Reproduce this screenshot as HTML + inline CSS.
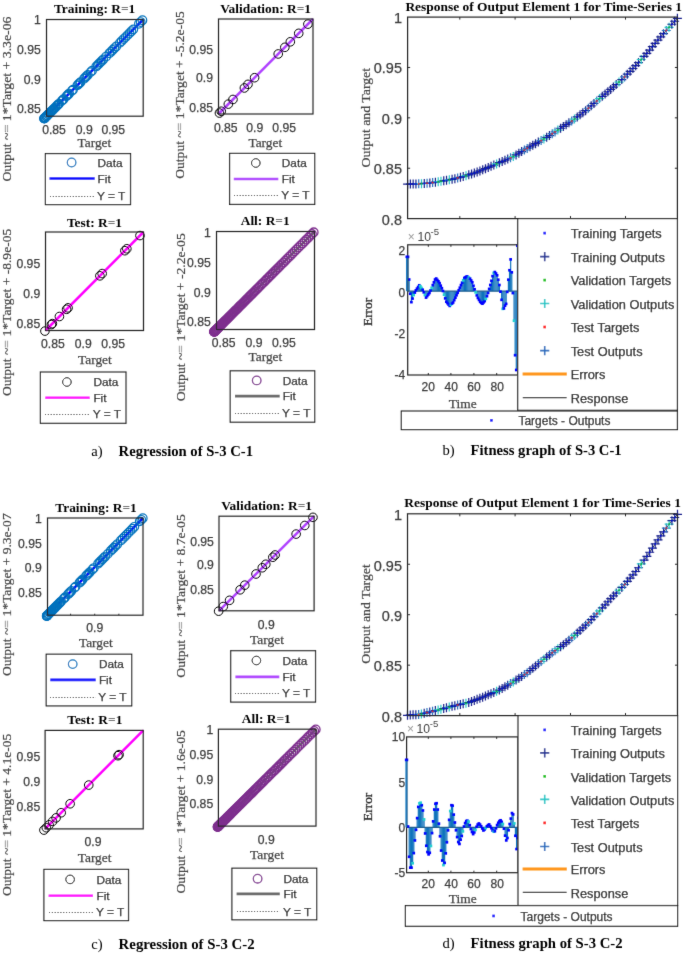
<!DOCTYPE html>
<html><head><meta charset="utf-8"><style>
html,body{margin:0;padding:0;background:#fff;}
svg{display:block;}
</style></head><body>
<svg width="685" height="953" viewBox="0 0 685 953">
<defs><filter id="bl" x="0" y="0" width="685" height="953" filterUnits="userSpaceOnUse"><feConvolveMatrix order="3" kernelMatrix="1 10 1 10 100 10 1 10 1" divisor="144" edgeMode="duplicate"/></filter></defs>
<rect width="685" height="953" fill="#fff"/>
<g filter="url(#bl)">
<line x1="46.50" y1="116.20" x2="143.20" y2="19.50" stroke="#000" stroke-width="0.8" stroke-dasharray="1 2"/>
<line x1="46.50" y1="116.20" x2="143.20" y2="19.50" stroke="#0000ff" stroke-width="2.5" />
<circle cx="44.19" cy="118.51" r="4.3" fill="none" stroke="#0072bd" stroke-width="1.2"/>
<circle cx="44.24" cy="118.46" r="4.3" fill="none" stroke="#0072bd" stroke-width="1.2"/>
<circle cx="44.29" cy="118.41" r="4.3" fill="none" stroke="#0072bd" stroke-width="1.2"/>
<circle cx="44.34" cy="118.36" r="4.3" fill="none" stroke="#0072bd" stroke-width="1.2"/>
<circle cx="44.64" cy="118.06" r="4.3" fill="none" stroke="#0072bd" stroke-width="1.2"/>
<circle cx="44.90" cy="117.80" r="4.3" fill="none" stroke="#0072bd" stroke-width="1.2"/>
<circle cx="45.41" cy="117.29" r="4.3" fill="none" stroke="#0072bd" stroke-width="1.2"/>
<circle cx="46.21" cy="116.49" r="4.3" fill="none" stroke="#0072bd" stroke-width="1.2"/>
<circle cx="46.50" cy="116.20" r="4.3" fill="none" stroke="#0072bd" stroke-width="1.2"/>
<circle cx="47.10" cy="115.60" r="4.3" fill="none" stroke="#0072bd" stroke-width="1.2"/>
<circle cx="47.49" cy="115.21" r="4.3" fill="none" stroke="#0072bd" stroke-width="1.2"/>
<circle cx="48.31" cy="114.39" r="4.3" fill="none" stroke="#0072bd" stroke-width="1.2"/>
<circle cx="48.72" cy="113.98" r="4.3" fill="none" stroke="#0072bd" stroke-width="1.2"/>
<circle cx="49.74" cy="112.96" r="4.3" fill="none" stroke="#0072bd" stroke-width="1.2"/>
<circle cx="50.27" cy="112.43" r="4.3" fill="none" stroke="#0072bd" stroke-width="1.2"/>
<circle cx="50.80" cy="111.90" r="4.3" fill="none" stroke="#0072bd" stroke-width="1.2"/>
<circle cx="51.39" cy="111.31" r="4.3" fill="none" stroke="#0072bd" stroke-width="1.2"/>
<circle cx="52.06" cy="110.64" r="4.3" fill="none" stroke="#0072bd" stroke-width="1.2"/>
<circle cx="52.73" cy="109.97" r="4.3" fill="none" stroke="#0072bd" stroke-width="1.2"/>
<circle cx="53.41" cy="109.29" r="4.3" fill="none" stroke="#0072bd" stroke-width="1.2"/>
<circle cx="54.11" cy="108.59" r="4.3" fill="none" stroke="#0072bd" stroke-width="1.2"/>
<circle cx="54.81" cy="107.89" r="4.3" fill="none" stroke="#0072bd" stroke-width="1.2"/>
<circle cx="55.51" cy="107.19" r="4.3" fill="none" stroke="#0072bd" stroke-width="1.2"/>
<circle cx="56.91" cy="105.79" r="4.3" fill="none" stroke="#0072bd" stroke-width="1.2"/>
<circle cx="57.64" cy="105.06" r="4.3" fill="none" stroke="#0072bd" stroke-width="1.2"/>
<circle cx="58.38" cy="104.32" r="4.3" fill="none" stroke="#0072bd" stroke-width="1.2"/>
<circle cx="59.11" cy="103.59" r="4.3" fill="none" stroke="#0072bd" stroke-width="1.2"/>
<circle cx="61.54" cy="101.16" r="4.3" fill="none" stroke="#0072bd" stroke-width="1.2"/>
<circle cx="62.55" cy="100.15" r="4.3" fill="none" stroke="#0072bd" stroke-width="1.2"/>
<circle cx="63.52" cy="99.18" r="4.3" fill="none" stroke="#0072bd" stroke-width="1.2"/>
<circle cx="66.34" cy="96.36" r="4.3" fill="none" stroke="#0072bd" stroke-width="1.2"/>
<circle cx="67.29" cy="95.41" r="4.3" fill="none" stroke="#0072bd" stroke-width="1.2"/>
<circle cx="68.21" cy="94.49" r="4.3" fill="none" stroke="#0072bd" stroke-width="1.2"/>
<circle cx="69.14" cy="93.56" r="4.3" fill="none" stroke="#0072bd" stroke-width="1.2"/>
<circle cx="71.93" cy="90.77" r="4.3" fill="none" stroke="#0072bd" stroke-width="1.2"/>
<circle cx="73.01" cy="89.69" r="4.3" fill="none" stroke="#0072bd" stroke-width="1.2"/>
<circle cx="77.33" cy="85.37" r="4.3" fill="none" stroke="#0072bd" stroke-width="1.2"/>
<circle cx="78.39" cy="84.31" r="4.3" fill="none" stroke="#0072bd" stroke-width="1.2"/>
<circle cx="79.45" cy="83.25" r="4.3" fill="none" stroke="#0072bd" stroke-width="1.2"/>
<circle cx="80.51" cy="82.19" r="4.3" fill="none" stroke="#0072bd" stroke-width="1.2"/>
<circle cx="84.00" cy="78.70" r="4.3" fill="none" stroke="#0072bd" stroke-width="1.2"/>
<circle cx="85.24" cy="77.46" r="4.3" fill="none" stroke="#0072bd" stroke-width="1.2"/>
<circle cx="86.49" cy="76.21" r="4.3" fill="none" stroke="#0072bd" stroke-width="1.2"/>
<circle cx="87.73" cy="74.97" r="4.3" fill="none" stroke="#0072bd" stroke-width="1.2"/>
<circle cx="90.59" cy="72.11" r="4.3" fill="none" stroke="#0072bd" stroke-width="1.2"/>
<circle cx="92.03" cy="70.67" r="4.3" fill="none" stroke="#0072bd" stroke-width="1.2"/>
<circle cx="96.23" cy="66.47" r="4.3" fill="none" stroke="#0072bd" stroke-width="1.2"/>
<circle cx="97.58" cy="65.12" r="4.3" fill="none" stroke="#0072bd" stroke-width="1.2"/>
<circle cx="98.93" cy="63.77" r="4.3" fill="none" stroke="#0072bd" stroke-width="1.2"/>
<circle cx="100.29" cy="62.41" r="4.3" fill="none" stroke="#0072bd" stroke-width="1.2"/>
<circle cx="101.72" cy="60.98" r="4.3" fill="none" stroke="#0072bd" stroke-width="1.2"/>
<circle cx="103.20" cy="59.50" r="4.3" fill="none" stroke="#0072bd" stroke-width="1.2"/>
<circle cx="106.15" cy="56.55" r="4.3" fill="none" stroke="#0072bd" stroke-width="1.2"/>
<circle cx="109.37" cy="53.33" r="4.3" fill="none" stroke="#0072bd" stroke-width="1.2"/>
<circle cx="111.03" cy="51.67" r="4.3" fill="none" stroke="#0072bd" stroke-width="1.2"/>
<circle cx="112.69" cy="50.01" r="4.3" fill="none" stroke="#0072bd" stroke-width="1.2"/>
<circle cx="114.39" cy="48.31" r="4.3" fill="none" stroke="#0072bd" stroke-width="1.2"/>
<circle cx="116.21" cy="46.49" r="4.3" fill="none" stroke="#0072bd" stroke-width="1.2"/>
<circle cx="119.84" cy="42.86" r="4.3" fill="none" stroke="#0072bd" stroke-width="1.2"/>
<circle cx="121.66" cy="41.04" r="4.3" fill="none" stroke="#0072bd" stroke-width="1.2"/>
<circle cx="123.63" cy="39.07" r="4.3" fill="none" stroke="#0072bd" stroke-width="1.2"/>
<circle cx="125.60" cy="37.10" r="4.3" fill="none" stroke="#0072bd" stroke-width="1.2"/>
<circle cx="127.57" cy="35.13" r="4.3" fill="none" stroke="#0072bd" stroke-width="1.2"/>
<circle cx="129.54" cy="33.16" r="4.3" fill="none" stroke="#0072bd" stroke-width="1.2"/>
<circle cx="131.44" cy="31.26" r="4.3" fill="none" stroke="#0072bd" stroke-width="1.2"/>
<circle cx="133.33" cy="29.37" r="4.3" fill="none" stroke="#0072bd" stroke-width="1.2"/>
<circle cx="138.91" cy="23.79" r="4.3" fill="none" stroke="#0072bd" stroke-width="1.2"/>
<circle cx="140.67" cy="22.03" r="4.3" fill="none" stroke="#0072bd" stroke-width="1.2"/>
<circle cx="142.43" cy="20.27" r="4.3" fill="none" stroke="#0072bd" stroke-width="1.2"/>
<rect x="46.50" y="19.50" width="96.70" height="96.70" fill="none" stroke="#262626" stroke-width="1.2"/>
<text x="40.80" y="23.70" font-family="Liberation Sans, sans-serif" font-size="12.2" font-weight="normal" text-anchor="end" fill="#3c3c3c" stroke="#3c3c3c" stroke-width="0.25">1</text>
<text x="40.80" y="53.90" font-family="Liberation Sans, sans-serif" font-size="12.2" font-weight="normal" text-anchor="end" fill="#3c3c3c" stroke="#3c3c3c" stroke-width="0.25">0.95</text>
<text x="40.80" y="84.10" font-family="Liberation Sans, sans-serif" font-size="12.2" font-weight="normal" text-anchor="end" fill="#3c3c3c" stroke="#3c3c3c" stroke-width="0.25">0.9</text>
<text x="40.80" y="113.40" font-family="Liberation Sans, sans-serif" font-size="12.2" font-weight="normal" text-anchor="end" fill="#3c3c3c" stroke="#3c3c3c" stroke-width="0.25">0.85</text>
<text x="54.00" y="134.10" font-family="Liberation Sans, sans-serif" font-size="12.2" font-weight="normal" text-anchor="middle" fill="#3c3c3c" stroke="#3c3c3c" stroke-width="0.25">0.85</text>
<text x="84.20" y="134.10" font-family="Liberation Sans, sans-serif" font-size="12.2" font-weight="normal" text-anchor="middle" fill="#3c3c3c" stroke="#3c3c3c" stroke-width="0.25">0.9</text>
<text x="113.30" y="134.10" font-family="Liberation Sans, sans-serif" font-size="12.2" font-weight="normal" text-anchor="middle" fill="#3c3c3c" stroke="#3c3c3c" stroke-width="0.25">0.95</text>
<text x="94.60" y="13.20" font-family="Liberation Serif, serif" font-size="13.4" font-weight="bold" text-anchor="middle" fill="#000" >Training: R<tspan fill="#777">=</tspan>1</text>
<text x="94.40" y="146.60" font-family="Liberation Serif, serif" font-size="13.4" font-weight="normal" text-anchor="middle" fill="#444" stroke="#444" stroke-width="0.25">Target</text>
<text transform="translate(11.40,99.10) rotate(-90)" font-family="Liberation Serif, serif" font-size="13.4" text-anchor="middle" fill="#444" stroke="#444" stroke-width="0.2" textLength="165.0" lengthAdjust="spacingAndGlyphs">Output ~<tspan fill="#d4d4d4" font-weight="bold">=</tspan> 1*Target + 3.3e-06</text>
<rect x="45.40" y="153.60" width="85.10" height="51.00" fill="#fff" stroke="#262626" stroke-width="1.2"/>
<circle cx="71.60" cy="162.50" r="4.3" fill="none" stroke="#0072bd" stroke-width="1.2"/>
<line x1="49.50" y1="178.50" x2="94.70" y2="178.50" stroke="#0000ff" stroke-width="2.6" />
<line x1="50.00" y1="196.50" x2="94.70" y2="196.50" stroke="#000" stroke-width="1.0" stroke-dasharray="1 1.85"/>
<text x="97.60" y="166.70" font-family="Liberation Sans, sans-serif" font-size="11.8" font-weight="normal" text-anchor="start" fill="#1c1c1c" stroke="#161616" stroke-width="0.25">Data</text>
<text x="97.60" y="182.70" font-family="Liberation Sans, sans-serif" font-size="11.8" font-weight="normal" text-anchor="start" fill="#1c1c1c" stroke="#161616" stroke-width="0.25">Fit</text>
<text x="97.00" y="199.70" font-family="Liberation Sans, sans-serif" font-size="11.8" font-weight="normal" text-anchor="start" fill="#1c1c1c" stroke="#161616" stroke-width="0.25" textLength="28.3" lengthAdjust="spacingAndGlyphs">Y = T</text>
<line x1="218.50" y1="114.00" x2="313.00" y2="19.00" stroke="#000" stroke-width="0.8" stroke-dasharray="1 2"/>
<line x1="218.50" y1="114.00" x2="313.00" y2="19.00" stroke="#b042ff" stroke-width="2.5" />
<circle cx="307.90" cy="24.13" r="4.3" fill="none" stroke="#000" stroke-width="1.0"/>
<circle cx="298.73" cy="33.34" r="4.3" fill="none" stroke="#000" stroke-width="1.0"/>
<circle cx="290.32" cy="41.80" r="4.3" fill="none" stroke="#000" stroke-width="1.0"/>
<circle cx="284.84" cy="47.31" r="4.3" fill="none" stroke="#000" stroke-width="1.0"/>
<circle cx="278.22" cy="53.96" r="4.3" fill="none" stroke="#000" stroke-width="1.0"/>
<circle cx="254.60" cy="77.71" r="4.3" fill="none" stroke="#000" stroke-width="1.0"/>
<circle cx="247.98" cy="84.36" r="4.3" fill="none" stroke="#000" stroke-width="1.0"/>
<circle cx="244.39" cy="87.97" r="4.3" fill="none" stroke="#000" stroke-width="1.0"/>
<circle cx="232.96" cy="99.47" r="4.3" fill="none" stroke="#000" stroke-width="1.0"/>
<circle cx="228.33" cy="104.12" r="4.3" fill="none" stroke="#000" stroke-width="1.0"/>
<circle cx="221.24" cy="111.25" r="4.3" fill="none" stroke="#000" stroke-width="1.0"/>
<circle cx="219.44" cy="113.05" r="4.3" fill="none" stroke="#000" stroke-width="1.0"/>
<rect x="218.50" y="19.00" width="94.50" height="95.00" fill="none" stroke="#262626" stroke-width="1.2"/>
<text x="213.00" y="53.90" font-family="Liberation Sans, sans-serif" font-size="12.2" font-weight="normal" text-anchor="end" fill="#3c3c3c" stroke="#3c3c3c" stroke-width="0.25">0.95</text>
<text x="213.00" y="82.20" font-family="Liberation Sans, sans-serif" font-size="12.2" font-weight="normal" text-anchor="end" fill="#3c3c3c" stroke="#3c3c3c" stroke-width="0.25">0.9</text>
<text x="213.00" y="111.50" font-family="Liberation Sans, sans-serif" font-size="12.2" font-weight="normal" text-anchor="end" fill="#3c3c3c" stroke="#3c3c3c" stroke-width="0.25">0.85</text>
<text x="225.80" y="131.50" font-family="Liberation Sans, sans-serif" font-size="12.2" font-weight="normal" text-anchor="middle" fill="#3c3c3c" stroke="#3c3c3c" stroke-width="0.25">0.85</text>
<text x="254.80" y="131.50" font-family="Liberation Sans, sans-serif" font-size="12.2" font-weight="normal" text-anchor="middle" fill="#3c3c3c" stroke="#3c3c3c" stroke-width="0.25">0.9</text>
<text x="284.10" y="131.50" font-family="Liberation Sans, sans-serif" font-size="12.2" font-weight="normal" text-anchor="middle" fill="#3c3c3c" stroke="#3c3c3c" stroke-width="0.25">0.95</text>
<text x="265.60" y="12.80" font-family="Liberation Serif, serif" font-size="13.4" font-weight="bold" text-anchor="middle" fill="#000" >Validation: R<tspan fill="#777">=</tspan>1</text>
<text x="265.30" y="146.60" font-family="Liberation Serif, serif" font-size="13.4" font-weight="normal" text-anchor="middle" fill="#444" stroke="#444" stroke-width="0.25">Target</text>
<text transform="translate(184.00,95.00) rotate(-90)" font-family="Liberation Serif, serif" font-size="13.4" text-anchor="middle" fill="#444" stroke="#444" stroke-width="0.2" textLength="167.5" lengthAdjust="spacingAndGlyphs">Output ~<tspan fill="#d4d4d4" font-weight="bold">=</tspan> 1*Target + -5.2e-05</text>
<rect x="229.60" y="153.40" width="85.10" height="51.00" fill="#fff" stroke="#262626" stroke-width="1.2"/>
<circle cx="255.80" cy="163.00" r="4.3" fill="none" stroke="#000" stroke-width="1.0"/>
<line x1="233.80" y1="179.00" x2="278.30" y2="179.00" stroke="#b042ff" stroke-width="2.6" />
<line x1="234.00" y1="195.50" x2="278.30" y2="195.50" stroke="#000" stroke-width="1.0" stroke-dasharray="1 1.85"/>
<text x="281.80" y="167.20" font-family="Liberation Sans, sans-serif" font-size="11.8" font-weight="normal" text-anchor="start" fill="#1c1c1c" stroke="#161616" stroke-width="0.25">Data</text>
<text x="281.80" y="183.20" font-family="Liberation Sans, sans-serif" font-size="11.8" font-weight="normal" text-anchor="start" fill="#1c1c1c" stroke="#161616" stroke-width="0.25">Fit</text>
<text x="281.20" y="199.30" font-family="Liberation Sans, sans-serif" font-size="11.8" font-weight="normal" text-anchor="start" fill="#1c1c1c" stroke="#161616" stroke-width="0.25" textLength="28.3" lengthAdjust="spacingAndGlyphs">Y = T</text>
<line x1="45.50" y1="330.50" x2="143.50" y2="232.00" stroke="#000" stroke-width="0.8" stroke-dasharray="1 2"/>
<line x1="45.50" y1="330.50" x2="143.50" y2="232.00" stroke="#ff00ff" stroke-width="2.5" />
<circle cx="139.97" cy="235.55" r="4.3" fill="none" stroke="#000" stroke-width="1.0"/>
<circle cx="124.88" cy="250.71" r="4.3" fill="none" stroke="#000" stroke-width="1.0"/>
<circle cx="126.84" cy="248.75" r="4.3" fill="none" stroke="#000" stroke-width="1.0"/>
<circle cx="99.89" cy="275.83" r="4.3" fill="none" stroke="#000" stroke-width="1.0"/>
<circle cx="102.14" cy="273.57" r="4.3" fill="none" stroke="#000" stroke-width="1.0"/>
<circle cx="66.57" cy="309.32" r="4.3" fill="none" stroke="#000" stroke-width="1.0"/>
<circle cx="68.04" cy="307.85" r="4.3" fill="none" stroke="#000" stroke-width="1.0"/>
<circle cx="59.42" cy="316.51" r="4.3" fill="none" stroke="#000" stroke-width="1.0"/>
<circle cx="51.38" cy="324.59" r="4.3" fill="none" stroke="#000" stroke-width="1.0"/>
<circle cx="52.36" cy="323.61" r="4.3" fill="none" stroke="#000" stroke-width="1.0"/>
<circle cx="44.91" cy="331.09" r="4.3" fill="none" stroke="#000" stroke-width="1.0"/>
<rect x="45.50" y="232.00" width="98.00" height="98.50" fill="none" stroke="#262626" stroke-width="1.2"/>
<text x="40.20" y="267.80" font-family="Liberation Sans, sans-serif" font-size="12.2" font-weight="normal" text-anchor="end" fill="#3c3c3c" stroke="#3c3c3c" stroke-width="0.25">0.95</text>
<text x="40.20" y="298.00" font-family="Liberation Sans, sans-serif" font-size="12.2" font-weight="normal" text-anchor="end" fill="#3c3c3c" stroke="#3c3c3c" stroke-width="0.25">0.9</text>
<text x="40.20" y="328.20" font-family="Liberation Sans, sans-serif" font-size="12.2" font-weight="normal" text-anchor="end" fill="#3c3c3c" stroke="#3c3c3c" stroke-width="0.25">0.85</text>
<text x="52.90" y="347.80" font-family="Liberation Sans, sans-serif" font-size="12.2" font-weight="normal" text-anchor="middle" fill="#3c3c3c" stroke="#3c3c3c" stroke-width="0.25">0.85</text>
<text x="83.20" y="347.80" font-family="Liberation Sans, sans-serif" font-size="12.2" font-weight="normal" text-anchor="middle" fill="#3c3c3c" stroke="#3c3c3c" stroke-width="0.25">0.9</text>
<text x="113.10" y="347.80" font-family="Liberation Sans, sans-serif" font-size="12.2" font-weight="normal" text-anchor="middle" fill="#3c3c3c" stroke="#3c3c3c" stroke-width="0.25">0.95</text>
<text x="94.50" y="226.50" font-family="Liberation Serif, serif" font-size="13.4" font-weight="bold" text-anchor="middle" fill="#000" >Test: R<tspan fill="#777">=</tspan>1</text>
<text x="94.90" y="363.50" font-family="Liberation Serif, serif" font-size="13.4" font-weight="normal" text-anchor="middle" fill="#444" stroke="#444" stroke-width="0.25">Target</text>
<text transform="translate(11.40,312.40) rotate(-90)" font-family="Liberation Serif, serif" font-size="13.4" text-anchor="middle" fill="#444" stroke="#444" stroke-width="0.2" textLength="167.3" lengthAdjust="spacingAndGlyphs">Output ~<tspan fill="#d4d4d4" font-weight="bold">=</tspan> 1*Target + -8.9e-05</text>
<rect x="40.40" y="372.00" width="85.60" height="51.30" fill="#fff" stroke="#262626" stroke-width="1.2"/>
<circle cx="66.90" cy="382.00" r="4.3" fill="none" stroke="#000" stroke-width="1.0"/>
<line x1="45.30" y1="397.70" x2="89.70" y2="397.70" stroke="#ff00ff" stroke-width="2.6" />
<line x1="45.00" y1="414.50" x2="89.70" y2="414.50" stroke="#000" stroke-width="1.0" stroke-dasharray="1 1.85"/>
<text x="93.40" y="386.20" font-family="Liberation Sans, sans-serif" font-size="11.8" font-weight="normal" text-anchor="start" fill="#1c1c1c" stroke="#161616" stroke-width="0.25">Data</text>
<text x="93.40" y="401.90" font-family="Liberation Sans, sans-serif" font-size="11.8" font-weight="normal" text-anchor="start" fill="#1c1c1c" stroke="#161616" stroke-width="0.25">Fit</text>
<text x="92.80" y="418.30" font-family="Liberation Sans, sans-serif" font-size="11.8" font-weight="normal" text-anchor="start" fill="#1c1c1c" stroke="#161616" stroke-width="0.25" textLength="28.3" lengthAdjust="spacingAndGlyphs">Y = T</text>
<line x1="216.50" y1="329.50" x2="314.50" y2="231.50" stroke="#000" stroke-width="0.8" stroke-dasharray="1 2"/>
<line x1="216.50" y1="329.50" x2="314.50" y2="231.50" stroke="#666666" stroke-width="2.5" />
<circle cx="214.16" cy="331.84" r="4.3" fill="none" stroke="#7e2f8e" stroke-width="1.3"/>
<circle cx="214.21" cy="331.79" r="4.3" fill="none" stroke="#7e2f8e" stroke-width="1.3"/>
<circle cx="214.26" cy="331.74" r="4.3" fill="none" stroke="#7e2f8e" stroke-width="1.3"/>
<circle cx="214.31" cy="331.69" r="4.3" fill="none" stroke="#7e2f8e" stroke-width="1.3"/>
<circle cx="214.39" cy="331.61" r="4.3" fill="none" stroke="#7e2f8e" stroke-width="1.3"/>
<circle cx="214.50" cy="331.50" r="4.3" fill="none" stroke="#7e2f8e" stroke-width="1.3"/>
<circle cx="214.62" cy="331.38" r="4.3" fill="none" stroke="#7e2f8e" stroke-width="1.3"/>
<circle cx="214.73" cy="331.27" r="4.3" fill="none" stroke="#7e2f8e" stroke-width="1.3"/>
<circle cx="214.88" cy="331.12" r="4.3" fill="none" stroke="#7e2f8e" stroke-width="1.3"/>
<circle cx="215.13" cy="330.87" r="4.3" fill="none" stroke="#7e2f8e" stroke-width="1.3"/>
<circle cx="215.39" cy="330.61" r="4.3" fill="none" stroke="#7e2f8e" stroke-width="1.3"/>
<circle cx="215.65" cy="330.35" r="4.3" fill="none" stroke="#7e2f8e" stroke-width="1.3"/>
<circle cx="215.91" cy="330.09" r="4.3" fill="none" stroke="#7e2f8e" stroke-width="1.3"/>
<circle cx="216.21" cy="329.79" r="4.3" fill="none" stroke="#7e2f8e" stroke-width="1.3"/>
<circle cx="216.51" cy="329.49" r="4.3" fill="none" stroke="#7e2f8e" stroke-width="1.3"/>
<circle cx="216.80" cy="329.20" r="4.3" fill="none" stroke="#7e2f8e" stroke-width="1.3"/>
<circle cx="217.10" cy="328.90" r="4.3" fill="none" stroke="#7e2f8e" stroke-width="1.3"/>
<circle cx="217.50" cy="328.50" r="4.3" fill="none" stroke="#7e2f8e" stroke-width="1.3"/>
<circle cx="217.92" cy="328.08" r="4.3" fill="none" stroke="#7e2f8e" stroke-width="1.3"/>
<circle cx="218.34" cy="327.66" r="4.3" fill="none" stroke="#7e2f8e" stroke-width="1.3"/>
<circle cx="218.75" cy="327.25" r="4.3" fill="none" stroke="#7e2f8e" stroke-width="1.3"/>
<circle cx="219.25" cy="326.75" r="4.3" fill="none" stroke="#7e2f8e" stroke-width="1.3"/>
<circle cx="219.79" cy="326.21" r="4.3" fill="none" stroke="#7e2f8e" stroke-width="1.3"/>
<circle cx="220.32" cy="325.68" r="4.3" fill="none" stroke="#7e2f8e" stroke-width="1.3"/>
<circle cx="220.86" cy="325.14" r="4.3" fill="none" stroke="#7e2f8e" stroke-width="1.3"/>
<circle cx="221.46" cy="324.54" r="4.3" fill="none" stroke="#7e2f8e" stroke-width="1.3"/>
<circle cx="222.14" cy="323.86" r="4.3" fill="none" stroke="#7e2f8e" stroke-width="1.3"/>
<circle cx="222.81" cy="323.19" r="4.3" fill="none" stroke="#7e2f8e" stroke-width="1.3"/>
<circle cx="223.50" cy="322.50" r="4.3" fill="none" stroke="#7e2f8e" stroke-width="1.3"/>
<circle cx="224.21" cy="321.79" r="4.3" fill="none" stroke="#7e2f8e" stroke-width="1.3"/>
<circle cx="224.92" cy="321.08" r="4.3" fill="none" stroke="#7e2f8e" stroke-width="1.3"/>
<circle cx="225.63" cy="320.37" r="4.3" fill="none" stroke="#7e2f8e" stroke-width="1.3"/>
<circle cx="226.34" cy="319.66" r="4.3" fill="none" stroke="#7e2f8e" stroke-width="1.3"/>
<circle cx="227.05" cy="318.95" r="4.3" fill="none" stroke="#7e2f8e" stroke-width="1.3"/>
<circle cx="227.79" cy="318.21" r="4.3" fill="none" stroke="#7e2f8e" stroke-width="1.3"/>
<circle cx="228.54" cy="317.46" r="4.3" fill="none" stroke="#7e2f8e" stroke-width="1.3"/>
<circle cx="229.28" cy="316.72" r="4.3" fill="none" stroke="#7e2f8e" stroke-width="1.3"/>
<circle cx="230.02" cy="315.98" r="4.3" fill="none" stroke="#7e2f8e" stroke-width="1.3"/>
<circle cx="230.77" cy="315.23" r="4.3" fill="none" stroke="#7e2f8e" stroke-width="1.3"/>
<circle cx="231.74" cy="314.26" r="4.3" fill="none" stroke="#7e2f8e" stroke-width="1.3"/>
<circle cx="232.76" cy="313.24" r="4.3" fill="none" stroke="#7e2f8e" stroke-width="1.3"/>
<circle cx="233.74" cy="312.26" r="4.3" fill="none" stroke="#7e2f8e" stroke-width="1.3"/>
<circle cx="234.70" cy="311.30" r="4.3" fill="none" stroke="#7e2f8e" stroke-width="1.3"/>
<circle cx="235.66" cy="310.34" r="4.3" fill="none" stroke="#7e2f8e" stroke-width="1.3"/>
<circle cx="236.61" cy="309.39" r="4.3" fill="none" stroke="#7e2f8e" stroke-width="1.3"/>
<circle cx="237.57" cy="308.43" r="4.3" fill="none" stroke="#7e2f8e" stroke-width="1.3"/>
<circle cx="238.51" cy="307.49" r="4.3" fill="none" stroke="#7e2f8e" stroke-width="1.3"/>
<circle cx="239.44" cy="306.56" r="4.3" fill="none" stroke="#7e2f8e" stroke-width="1.3"/>
<circle cx="240.38" cy="305.62" r="4.3" fill="none" stroke="#7e2f8e" stroke-width="1.3"/>
<circle cx="241.31" cy="304.69" r="4.3" fill="none" stroke="#7e2f8e" stroke-width="1.3"/>
<circle cx="242.27" cy="303.73" r="4.3" fill="none" stroke="#7e2f8e" stroke-width="1.3"/>
<circle cx="243.37" cy="302.63" r="4.3" fill="none" stroke="#7e2f8e" stroke-width="1.3"/>
<circle cx="244.46" cy="301.54" r="4.3" fill="none" stroke="#7e2f8e" stroke-width="1.3"/>
<circle cx="245.56" cy="300.44" r="4.3" fill="none" stroke="#7e2f8e" stroke-width="1.3"/>
<circle cx="246.65" cy="299.35" r="4.3" fill="none" stroke="#7e2f8e" stroke-width="1.3"/>
<circle cx="247.74" cy="298.26" r="4.3" fill="none" stroke="#7e2f8e" stroke-width="1.3"/>
<circle cx="248.82" cy="297.18" r="4.3" fill="none" stroke="#7e2f8e" stroke-width="1.3"/>
<circle cx="249.89" cy="296.11" r="4.3" fill="none" stroke="#7e2f8e" stroke-width="1.3"/>
<circle cx="250.97" cy="295.03" r="4.3" fill="none" stroke="#7e2f8e" stroke-width="1.3"/>
<circle cx="252.04" cy="293.96" r="4.3" fill="none" stroke="#7e2f8e" stroke-width="1.3"/>
<circle cx="253.24" cy="292.76" r="4.3" fill="none" stroke="#7e2f8e" stroke-width="1.3"/>
<circle cx="254.50" cy="291.50" r="4.3" fill="none" stroke="#7e2f8e" stroke-width="1.3"/>
<circle cx="255.76" cy="290.24" r="4.3" fill="none" stroke="#7e2f8e" stroke-width="1.3"/>
<circle cx="257.03" cy="288.97" r="4.3" fill="none" stroke="#7e2f8e" stroke-width="1.3"/>
<circle cx="258.29" cy="287.71" r="4.3" fill="none" stroke="#7e2f8e" stroke-width="1.3"/>
<circle cx="259.73" cy="286.27" r="4.3" fill="none" stroke="#7e2f8e" stroke-width="1.3"/>
<circle cx="261.19" cy="284.81" r="4.3" fill="none" stroke="#7e2f8e" stroke-width="1.3"/>
<circle cx="262.64" cy="283.36" r="4.3" fill="none" stroke="#7e2f8e" stroke-width="1.3"/>
<circle cx="264.09" cy="281.91" r="4.3" fill="none" stroke="#7e2f8e" stroke-width="1.3"/>
<circle cx="265.52" cy="280.48" r="4.3" fill="none" stroke="#7e2f8e" stroke-width="1.3"/>
<circle cx="266.90" cy="279.10" r="4.3" fill="none" stroke="#7e2f8e" stroke-width="1.3"/>
<circle cx="268.27" cy="277.73" r="4.3" fill="none" stroke="#7e2f8e" stroke-width="1.3"/>
<circle cx="269.64" cy="276.36" r="4.3" fill="none" stroke="#7e2f8e" stroke-width="1.3"/>
<circle cx="271.01" cy="274.99" r="4.3" fill="none" stroke="#7e2f8e" stroke-width="1.3"/>
<circle cx="272.46" cy="273.54" r="4.3" fill="none" stroke="#7e2f8e" stroke-width="1.3"/>
<circle cx="273.96" cy="272.04" r="4.3" fill="none" stroke="#7e2f8e" stroke-width="1.3"/>
<circle cx="275.46" cy="270.54" r="4.3" fill="none" stroke="#7e2f8e" stroke-width="1.3"/>
<circle cx="276.95" cy="269.05" r="4.3" fill="none" stroke="#7e2f8e" stroke-width="1.3"/>
<circle cx="278.53" cy="267.47" r="4.3" fill="none" stroke="#7e2f8e" stroke-width="1.3"/>
<circle cx="280.21" cy="265.79" r="4.3" fill="none" stroke="#7e2f8e" stroke-width="1.3"/>
<circle cx="281.90" cy="264.10" r="4.3" fill="none" stroke="#7e2f8e" stroke-width="1.3"/>
<circle cx="283.58" cy="262.42" r="4.3" fill="none" stroke="#7e2f8e" stroke-width="1.3"/>
<circle cx="285.30" cy="260.70" r="4.3" fill="none" stroke="#7e2f8e" stroke-width="1.3"/>
<circle cx="287.14" cy="258.86" r="4.3" fill="none" stroke="#7e2f8e" stroke-width="1.3"/>
<circle cx="288.98" cy="257.02" r="4.3" fill="none" stroke="#7e2f8e" stroke-width="1.3"/>
<circle cx="290.82" cy="255.18" r="4.3" fill="none" stroke="#7e2f8e" stroke-width="1.3"/>
<circle cx="292.67" cy="253.33" r="4.3" fill="none" stroke="#7e2f8e" stroke-width="1.3"/>
<circle cx="294.67" cy="251.33" r="4.3" fill="none" stroke="#7e2f8e" stroke-width="1.3"/>
<circle cx="296.66" cy="249.34" r="4.3" fill="none" stroke="#7e2f8e" stroke-width="1.3"/>
<circle cx="298.66" cy="247.34" r="4.3" fill="none" stroke="#7e2f8e" stroke-width="1.3"/>
<circle cx="300.66" cy="245.34" r="4.3" fill="none" stroke="#7e2f8e" stroke-width="1.3"/>
<circle cx="302.59" cy="243.41" r="4.3" fill="none" stroke="#7e2f8e" stroke-width="1.3"/>
<circle cx="304.50" cy="241.50" r="4.3" fill="none" stroke="#7e2f8e" stroke-width="1.3"/>
<circle cx="306.41" cy="239.59" r="4.3" fill="none" stroke="#7e2f8e" stroke-width="1.3"/>
<circle cx="308.32" cy="237.68" r="4.3" fill="none" stroke="#7e2f8e" stroke-width="1.3"/>
<circle cx="310.15" cy="235.85" r="4.3" fill="none" stroke="#7e2f8e" stroke-width="1.3"/>
<circle cx="311.94" cy="234.06" r="4.3" fill="none" stroke="#7e2f8e" stroke-width="1.3"/>
<circle cx="313.72" cy="232.28" r="4.3" fill="none" stroke="#7e2f8e" stroke-width="1.3"/>
<rect x="216.50" y="231.50" width="98.00" height="98.00" fill="none" stroke="#262626" stroke-width="1.2"/>
<text x="210.80" y="236.70" font-family="Liberation Sans, sans-serif" font-size="12.2" font-weight="normal" text-anchor="end" fill="#3c3c3c" stroke="#3c3c3c" stroke-width="0.25">1</text>
<text x="210.80" y="266.80" font-family="Liberation Sans, sans-serif" font-size="12.2" font-weight="normal" text-anchor="end" fill="#3c3c3c" stroke="#3c3c3c" stroke-width="0.25">0.95</text>
<text x="210.80" y="296.50" font-family="Liberation Sans, sans-serif" font-size="12.2" font-weight="normal" text-anchor="end" fill="#3c3c3c" stroke="#3c3c3c" stroke-width="0.25">0.9</text>
<text x="210.80" y="326.30" font-family="Liberation Sans, sans-serif" font-size="12.2" font-weight="normal" text-anchor="end" fill="#3c3c3c" stroke="#3c3c3c" stroke-width="0.25">0.85</text>
<text x="223.70" y="346.70" font-family="Liberation Sans, sans-serif" font-size="12.2" font-weight="normal" text-anchor="middle" fill="#3c3c3c" stroke="#3c3c3c" stroke-width="0.25">0.85</text>
<text x="254.00" y="346.70" font-family="Liberation Sans, sans-serif" font-size="12.2" font-weight="normal" text-anchor="middle" fill="#3c3c3c" stroke="#3c3c3c" stroke-width="0.25">0.9</text>
<text x="283.90" y="346.70" font-family="Liberation Sans, sans-serif" font-size="12.2" font-weight="normal" text-anchor="middle" fill="#3c3c3c" stroke="#3c3c3c" stroke-width="0.25">0.95</text>
<text x="265.20" y="225.30" font-family="Liberation Serif, serif" font-size="13.4" font-weight="bold" text-anchor="middle" fill="#000" >All: R<tspan fill="#777">=</tspan>1</text>
<text x="265.40" y="361.10" font-family="Liberation Serif, serif" font-size="13.4" font-weight="normal" text-anchor="middle" fill="#444" stroke="#444" stroke-width="0.25">Target</text>
<text transform="translate(184.50,317.30) rotate(-90)" font-family="Liberation Serif, serif" font-size="13.4" text-anchor="middle" fill="#444" stroke="#444" stroke-width="0.2" textLength="168.1" lengthAdjust="spacingAndGlyphs">Output ~<tspan fill="#d4d4d4" font-weight="bold">=</tspan> 1*Target + -2.2e-05</text>
<rect x="230.20" y="370.80" width="84.50" height="51.40" fill="#fff" stroke="#262626" stroke-width="1.2"/>
<circle cx="256.70" cy="380.40" r="4.3" fill="none" stroke="#7e2f8e" stroke-width="1.3"/>
<line x1="235.00" y1="396.10" x2="279.70" y2="396.10" stroke="#666666" stroke-width="2.6" />
<line x1="235.00" y1="413.50" x2="279.70" y2="413.50" stroke="#000" stroke-width="1.0" stroke-dasharray="1 1.85"/>
<text x="282.70" y="384.60" font-family="Liberation Sans, sans-serif" font-size="11.8" font-weight="normal" text-anchor="start" fill="#1c1c1c" stroke="#161616" stroke-width="0.25">Data</text>
<text x="282.70" y="400.30" font-family="Liberation Sans, sans-serif" font-size="11.8" font-weight="normal" text-anchor="start" fill="#1c1c1c" stroke="#161616" stroke-width="0.25">Fit</text>
<text x="282.10" y="417.20" font-family="Liberation Sans, sans-serif" font-size="11.8" font-weight="normal" text-anchor="start" fill="#1c1c1c" stroke="#161616" stroke-width="0.25" textLength="28.3" lengthAdjust="spacingAndGlyphs">Y = T</text>
<line x1="47.50" y1="615.20" x2="143.00" y2="518.00" stroke="#000" stroke-width="0.8" stroke-dasharray="1 2"/>
<line x1="47.50" y1="615.20" x2="143.00" y2="518.00" stroke="#0000ff" stroke-width="2.5" />
<circle cx="46.68" cy="616.04" r="4.3" fill="none" stroke="#0072bd" stroke-width="1.2"/>
<circle cx="46.79" cy="615.93" r="4.3" fill="none" stroke="#0072bd" stroke-width="1.2"/>
<circle cx="46.89" cy="615.82" r="4.3" fill="none" stroke="#0072bd" stroke-width="1.2"/>
<circle cx="47.00" cy="615.71" r="4.3" fill="none" stroke="#0072bd" stroke-width="1.2"/>
<circle cx="47.64" cy="615.06" r="4.3" fill="none" stroke="#0072bd" stroke-width="1.2"/>
<circle cx="48.28" cy="614.41" r="4.3" fill="none" stroke="#0072bd" stroke-width="1.2"/>
<circle cx="48.92" cy="613.76" r="4.3" fill="none" stroke="#0072bd" stroke-width="1.2"/>
<circle cx="49.91" cy="612.75" r="4.3" fill="none" stroke="#0072bd" stroke-width="1.2"/>
<circle cx="50.26" cy="612.39" r="4.3" fill="none" stroke="#0072bd" stroke-width="1.2"/>
<circle cx="50.95" cy="611.69" r="4.3" fill="none" stroke="#0072bd" stroke-width="1.2"/>
<circle cx="51.29" cy="611.34" r="4.3" fill="none" stroke="#0072bd" stroke-width="1.2"/>
<circle cx="51.89" cy="610.73" r="4.3" fill="none" stroke="#0072bd" stroke-width="1.2"/>
<circle cx="52.19" cy="610.42" r="4.3" fill="none" stroke="#0072bd" stroke-width="1.2"/>
<circle cx="52.80" cy="609.81" r="4.3" fill="none" stroke="#0072bd" stroke-width="1.2"/>
<circle cx="53.28" cy="609.32" r="4.3" fill="none" stroke="#0072bd" stroke-width="1.2"/>
<circle cx="53.80" cy="608.79" r="4.3" fill="none" stroke="#0072bd" stroke-width="1.2"/>
<circle cx="54.32" cy="608.26" r="4.3" fill="none" stroke="#0072bd" stroke-width="1.2"/>
<circle cx="54.84" cy="607.73" r="4.3" fill="none" stroke="#0072bd" stroke-width="1.2"/>
<circle cx="55.36" cy="607.20" r="4.3" fill="none" stroke="#0072bd" stroke-width="1.2"/>
<circle cx="55.90" cy="606.65" r="4.3" fill="none" stroke="#0072bd" stroke-width="1.2"/>
<circle cx="56.45" cy="606.09" r="4.3" fill="none" stroke="#0072bd" stroke-width="1.2"/>
<circle cx="57.01" cy="605.52" r="4.3" fill="none" stroke="#0072bd" stroke-width="1.2"/>
<circle cx="57.56" cy="604.96" r="4.3" fill="none" stroke="#0072bd" stroke-width="1.2"/>
<circle cx="58.75" cy="603.75" r="4.3" fill="none" stroke="#0072bd" stroke-width="1.2"/>
<circle cx="59.53" cy="602.96" r="4.3" fill="none" stroke="#0072bd" stroke-width="1.2"/>
<circle cx="60.30" cy="602.17" r="4.3" fill="none" stroke="#0072bd" stroke-width="1.2"/>
<circle cx="61.08" cy="601.38" r="4.3" fill="none" stroke="#0072bd" stroke-width="1.2"/>
<circle cx="63.51" cy="598.91" r="4.3" fill="none" stroke="#0072bd" stroke-width="1.2"/>
<circle cx="64.38" cy="598.01" r="4.3" fill="none" stroke="#0072bd" stroke-width="1.2"/>
<circle cx="65.26" cy="597.12" r="4.3" fill="none" stroke="#0072bd" stroke-width="1.2"/>
<circle cx="68.06" cy="594.27" r="4.3" fill="none" stroke="#0072bd" stroke-width="1.2"/>
<circle cx="69.15" cy="593.17" r="4.3" fill="none" stroke="#0072bd" stroke-width="1.2"/>
<circle cx="70.23" cy="592.06" r="4.3" fill="none" stroke="#0072bd" stroke-width="1.2"/>
<circle cx="71.32" cy="590.96" r="4.3" fill="none" stroke="#0072bd" stroke-width="1.2"/>
<circle cx="74.51" cy="587.71" r="4.3" fill="none" stroke="#0072bd" stroke-width="1.2"/>
<circle cx="75.55" cy="586.65" r="4.3" fill="none" stroke="#0072bd" stroke-width="1.2"/>
<circle cx="79.46" cy="582.67" r="4.3" fill="none" stroke="#0072bd" stroke-width="1.2"/>
<circle cx="80.40" cy="581.71" r="4.3" fill="none" stroke="#0072bd" stroke-width="1.2"/>
<circle cx="81.43" cy="580.67" r="4.3" fill="none" stroke="#0072bd" stroke-width="1.2"/>
<circle cx="82.56" cy="579.51" r="4.3" fill="none" stroke="#0072bd" stroke-width="1.2"/>
<circle cx="86.00" cy="576.01" r="4.3" fill="none" stroke="#0072bd" stroke-width="1.2"/>
<circle cx="87.25" cy="574.74" r="4.3" fill="none" stroke="#0072bd" stroke-width="1.2"/>
<circle cx="88.50" cy="573.47" r="4.3" fill="none" stroke="#0072bd" stroke-width="1.2"/>
<circle cx="89.75" cy="572.20" r="4.3" fill="none" stroke="#0072bd" stroke-width="1.2"/>
<circle cx="92.40" cy="569.50" r="4.3" fill="none" stroke="#0072bd" stroke-width="1.2"/>
<circle cx="93.80" cy="568.07" r="4.3" fill="none" stroke="#0072bd" stroke-width="1.2"/>
<circle cx="98.05" cy="563.75" r="4.3" fill="none" stroke="#0072bd" stroke-width="1.2"/>
<circle cx="99.50" cy="562.27" r="4.3" fill="none" stroke="#0072bd" stroke-width="1.2"/>
<circle cx="100.96" cy="560.79" r="4.3" fill="none" stroke="#0072bd" stroke-width="1.2"/>
<circle cx="102.42" cy="559.31" r="4.3" fill="none" stroke="#0072bd" stroke-width="1.2"/>
<circle cx="103.79" cy="557.91" r="4.3" fill="none" stroke="#0072bd" stroke-width="1.2"/>
<circle cx="105.12" cy="556.55" r="4.3" fill="none" stroke="#0072bd" stroke-width="1.2"/>
<circle cx="107.78" cy="553.84" r="4.3" fill="none" stroke="#0072bd" stroke-width="1.2"/>
<circle cx="110.74" cy="550.83" r="4.3" fill="none" stroke="#0072bd" stroke-width="1.2"/>
<circle cx="112.28" cy="549.27" r="4.3" fill="none" stroke="#0072bd" stroke-width="1.2"/>
<circle cx="113.82" cy="547.70" r="4.3" fill="none" stroke="#0072bd" stroke-width="1.2"/>
<circle cx="115.42" cy="546.07" r="4.3" fill="none" stroke="#0072bd" stroke-width="1.2"/>
<circle cx="117.22" cy="544.24" r="4.3" fill="none" stroke="#0072bd" stroke-width="1.2"/>
<circle cx="120.81" cy="540.58" r="4.3" fill="none" stroke="#0072bd" stroke-width="1.2"/>
<circle cx="122.62" cy="538.74" r="4.3" fill="none" stroke="#0072bd" stroke-width="1.2"/>
<circle cx="124.61" cy="536.71" r="4.3" fill="none" stroke="#0072bd" stroke-width="1.2"/>
<circle cx="126.60" cy="534.69" r="4.3" fill="none" stroke="#0072bd" stroke-width="1.2"/>
<circle cx="128.59" cy="532.66" r="4.3" fill="none" stroke="#0072bd" stroke-width="1.2"/>
<circle cx="130.58" cy="530.64" r="4.3" fill="none" stroke="#0072bd" stroke-width="1.2"/>
<circle cx="132.47" cy="528.72" r="4.3" fill="none" stroke="#0072bd" stroke-width="1.2"/>
<circle cx="134.33" cy="526.82" r="4.3" fill="none" stroke="#0072bd" stroke-width="1.2"/>
<circle cx="139.70" cy="521.35" r="4.3" fill="none" stroke="#0072bd" stroke-width="1.2"/>
<circle cx="141.23" cy="519.80" r="4.3" fill="none" stroke="#0072bd" stroke-width="1.2"/>
<circle cx="142.76" cy="518.24" r="4.3" fill="none" stroke="#0072bd" stroke-width="1.2"/>
<rect x="47.50" y="518.00" width="95.50" height="97.20" fill="none" stroke="#262626" stroke-width="1.2"/>
<line x1="70.58" y1="615.20" x2="70.58" y2="613.70" stroke="#262626" stroke-width="0.9" />
<line x1="94.70" y1="615.20" x2="94.70" y2="613.70" stroke="#262626" stroke-width="0.9" />
<line x1="118.82" y1="615.20" x2="118.82" y2="613.70" stroke="#262626" stroke-width="0.9" />
<text x="41.80" y="523.00" font-family="Liberation Sans, sans-serif" font-size="12.2" font-weight="normal" text-anchor="end" fill="#3c3c3c" stroke="#3c3c3c" stroke-width="0.25">1</text>
<text x="41.80" y="547.80" font-family="Liberation Sans, sans-serif" font-size="12.2" font-weight="normal" text-anchor="end" fill="#3c3c3c" stroke="#3c3c3c" stroke-width="0.25">0.95</text>
<text x="41.80" y="572.30" font-family="Liberation Sans, sans-serif" font-size="12.2" font-weight="normal" text-anchor="end" fill="#3c3c3c" stroke="#3c3c3c" stroke-width="0.25">0.9</text>
<text x="41.80" y="596.70" font-family="Liberation Sans, sans-serif" font-size="12.2" font-weight="normal" text-anchor="end" fill="#3c3c3c" stroke="#3c3c3c" stroke-width="0.25">0.85</text>
<text x="94.70" y="631.50" font-family="Liberation Sans, sans-serif" font-size="12.2" font-weight="normal" text-anchor="middle" fill="#3c3c3c" stroke="#3c3c3c" stroke-width="0.25">0.9</text>
<text x="96.00" y="512.30" font-family="Liberation Serif, serif" font-size="13.4" font-weight="bold" text-anchor="middle" fill="#000" >Training: R<tspan fill="#777">=</tspan>1</text>
<text x="95.80" y="646.60" font-family="Liberation Serif, serif" font-size="13.4" font-weight="normal" text-anchor="middle" fill="#444" stroke="#444" stroke-width="0.25">Target</text>
<text transform="translate(11.40,594.70) rotate(-90)" font-family="Liberation Serif, serif" font-size="13.4" text-anchor="middle" fill="#444" stroke="#444" stroke-width="0.2" textLength="162.7" lengthAdjust="spacingAndGlyphs">Output ~<tspan fill="#d4d4d4" font-weight="bold">=</tspan> 1*Target + 9.3e-07</text>
<rect x="46.20" y="654.20" width="85.50" height="51.70" fill="#fff" stroke="#262626" stroke-width="1.2"/>
<circle cx="72.70" cy="664.10" r="4.3" fill="none" stroke="#0072bd" stroke-width="1.2"/>
<line x1="50.30" y1="679.90" x2="95.70" y2="679.90" stroke="#0000ff" stroke-width="2.6" />
<line x1="50.00" y1="697.50" x2="95.70" y2="697.50" stroke="#000" stroke-width="1.0" stroke-dasharray="1 1.85"/>
<text x="98.90" y="668.30" font-family="Liberation Sans, sans-serif" font-size="11.8" font-weight="normal" text-anchor="start" fill="#1c1c1c" stroke="#161616" stroke-width="0.25">Data</text>
<text x="98.90" y="684.10" font-family="Liberation Sans, sans-serif" font-size="11.8" font-weight="normal" text-anchor="start" fill="#1c1c1c" stroke="#161616" stroke-width="0.25">Fit</text>
<text x="98.30" y="700.90" font-family="Liberation Sans, sans-serif" font-size="11.8" font-weight="normal" text-anchor="start" fill="#1c1c1c" stroke="#161616" stroke-width="0.25" textLength="28.3" lengthAdjust="spacingAndGlyphs">Y = T</text>
<line x1="219.00" y1="610.80" x2="314.10" y2="516.20" stroke="#000" stroke-width="0.8" stroke-dasharray="1 2"/>
<line x1="219.00" y1="610.80" x2="314.10" y2="516.20" stroke="#b042ff" stroke-width="2.5" />
<circle cx="312.96" cy="517.34" r="4.3" fill="none" stroke="#000" stroke-width="1.0"/>
<circle cx="304.78" cy="525.47" r="4.3" fill="none" stroke="#000" stroke-width="1.0"/>
<circle cx="296.13" cy="534.08" r="4.3" fill="none" stroke="#000" stroke-width="1.0"/>
<circle cx="275.11" cy="554.99" r="4.3" fill="none" stroke="#000" stroke-width="1.0"/>
<circle cx="272.83" cy="557.26" r="4.3" fill="none" stroke="#000" stroke-width="1.0"/>
<circle cx="265.79" cy="564.26" r="4.3" fill="none" stroke="#000" stroke-width="1.0"/>
<circle cx="262.27" cy="567.76" r="4.3" fill="none" stroke="#000" stroke-width="1.0"/>
<circle cx="255.99" cy="574.00" r="4.3" fill="none" stroke="#000" stroke-width="1.0"/>
<circle cx="244.77" cy="585.16" r="4.3" fill="none" stroke="#000" stroke-width="1.0"/>
<circle cx="240.11" cy="589.80" r="4.3" fill="none" stroke="#000" stroke-width="1.0"/>
<circle cx="229.56" cy="600.30" r="4.3" fill="none" stroke="#000" stroke-width="1.0"/>
<circle cx="223.28" cy="606.54" r="4.3" fill="none" stroke="#000" stroke-width="1.0"/>
<circle cx="218.62" cy="611.18" r="4.3" fill="none" stroke="#000" stroke-width="1.0"/>
<rect x="219.00" y="516.20" width="95.10" height="94.60" fill="none" stroke="#262626" stroke-width="1.2"/>
<text x="213.90" y="546.10" font-family="Liberation Sans, sans-serif" font-size="12.2" font-weight="normal" text-anchor="end" fill="#3c3c3c" stroke="#3c3c3c" stroke-width="0.25">0.95</text>
<text x="213.90" y="569.40" font-family="Liberation Sans, sans-serif" font-size="12.2" font-weight="normal" text-anchor="end" fill="#3c3c3c" stroke="#3c3c3c" stroke-width="0.25">0.9</text>
<text x="213.90" y="593.50" font-family="Liberation Sans, sans-serif" font-size="12.2" font-weight="normal" text-anchor="end" fill="#3c3c3c" stroke="#3c3c3c" stroke-width="0.25">0.85</text>
<text x="266.20" y="628.80" font-family="Liberation Sans, sans-serif" font-size="12.2" font-weight="normal" text-anchor="middle" fill="#3c3c3c" stroke="#3c3c3c" stroke-width="0.25">0.9</text>
<text x="266.60" y="509.60" font-family="Liberation Serif, serif" font-size="13.4" font-weight="bold" text-anchor="middle" fill="#000" >Validation: R<tspan fill="#777">=</tspan>1</text>
<text x="267.00" y="643.70" font-family="Liberation Serif, serif" font-size="13.4" font-weight="normal" text-anchor="middle" fill="#444" stroke="#444" stroke-width="0.25">Target</text>
<text transform="translate(184.50,596.00) rotate(-90)" font-family="Liberation Serif, serif" font-size="13.4" text-anchor="middle" fill="#444" stroke="#444" stroke-width="0.2" textLength="163.4" lengthAdjust="spacingAndGlyphs">Output ~<tspan fill="#d4d4d4" font-weight="bold">=</tspan> 1*Target + 8.7e-05</text>
<rect x="230.70" y="650.70" width="84.80" height="51.40" fill="#fff" stroke="#262626" stroke-width="1.2"/>
<circle cx="256.40" cy="660.50" r="4.3" fill="none" stroke="#000" stroke-width="1.0"/>
<line x1="235.40" y1="676.90" x2="279.30" y2="676.90" stroke="#b042ff" stroke-width="2.6" />
<line x1="235.00" y1="693.50" x2="279.30" y2="693.50" stroke="#000" stroke-width="1.0" stroke-dasharray="1 1.85"/>
<text x="282.50" y="664.70" font-family="Liberation Sans, sans-serif" font-size="11.8" font-weight="normal" text-anchor="start" fill="#1c1c1c" stroke="#161616" stroke-width="0.25">Data</text>
<text x="282.50" y="681.10" font-family="Liberation Sans, sans-serif" font-size="11.8" font-weight="normal" text-anchor="start" fill="#1c1c1c" stroke="#161616" stroke-width="0.25">Fit</text>
<text x="281.90" y="697.00" font-family="Liberation Sans, sans-serif" font-size="11.8" font-weight="normal" text-anchor="start" fill="#1c1c1c" stroke="#161616" stroke-width="0.25" textLength="28.3" lengthAdjust="spacingAndGlyphs">Y = T</text>
<line x1="45.10" y1="828.90" x2="143.20" y2="730.40" stroke="#000" stroke-width="0.8" stroke-dasharray="1 2"/>
<line x1="45.10" y1="828.90" x2="143.20" y2="730.40" stroke="#ff00ff" stroke-width="2.5" />
<circle cx="119.07" cy="754.63" r="4.3" fill="none" stroke="#000" stroke-width="1.0"/>
<circle cx="117.99" cy="755.71" r="4.3" fill="none" stroke="#000" stroke-width="1.0"/>
<circle cx="88.75" cy="785.07" r="4.3" fill="none" stroke="#000" stroke-width="1.0"/>
<circle cx="70.12" cy="803.78" r="4.3" fill="none" stroke="#000" stroke-width="1.0"/>
<circle cx="61.19" cy="812.75" r="4.3" fill="none" stroke="#000" stroke-width="1.0"/>
<circle cx="56.09" cy="817.87" r="4.3" fill="none" stroke="#000" stroke-width="1.0"/>
<circle cx="52.56" cy="821.41" r="4.3" fill="none" stroke="#000" stroke-width="1.0"/>
<circle cx="49.12" cy="824.86" r="4.3" fill="none" stroke="#000" stroke-width="1.0"/>
<circle cx="46.28" cy="827.72" r="4.3" fill="none" stroke="#000" stroke-width="1.0"/>
<circle cx="43.92" cy="830.08" r="4.3" fill="none" stroke="#000" stroke-width="1.0"/>
<rect x="45.10" y="730.40" width="98.10" height="98.50" fill="none" stroke="#262626" stroke-width="1.2"/>
<text x="40.20" y="761.00" font-family="Liberation Sans, sans-serif" font-size="12.2" font-weight="normal" text-anchor="end" fill="#3c3c3c" stroke="#3c3c3c" stroke-width="0.25">0.95</text>
<text x="40.20" y="786.00" font-family="Liberation Sans, sans-serif" font-size="12.2" font-weight="normal" text-anchor="end" fill="#3c3c3c" stroke="#3c3c3c" stroke-width="0.25">0.9</text>
<text x="40.20" y="811.20" font-family="Liberation Sans, sans-serif" font-size="12.2" font-weight="normal" text-anchor="end" fill="#3c3c3c" stroke="#3c3c3c" stroke-width="0.25">0.85</text>
<text x="93.00" y="845.80" font-family="Liberation Sans, sans-serif" font-size="12.2" font-weight="normal" text-anchor="middle" fill="#3c3c3c" stroke="#3c3c3c" stroke-width="0.25">0.9</text>
<text x="94.80" y="724.20" font-family="Liberation Serif, serif" font-size="13.4" font-weight="bold" text-anchor="middle" fill="#000" >Test: R<tspan fill="#777">=</tspan>1</text>
<text x="94.60" y="862.30" font-family="Liberation Serif, serif" font-size="13.4" font-weight="normal" text-anchor="middle" fill="#444" stroke="#444" stroke-width="0.25">Target</text>
<text transform="translate(11.40,814.90) rotate(-90)" font-family="Liberation Serif, serif" font-size="13.4" text-anchor="middle" fill="#444" stroke="#444" stroke-width="0.2" textLength="162.3" lengthAdjust="spacingAndGlyphs">Output ~<tspan fill="#d4d4d4" font-weight="bold">=</tspan> 1*Target + 4.1e-05</text>
<rect x="43.90" y="869.40" width="84.60" height="51.20" fill="#fff" stroke="#262626" stroke-width="1.2"/>
<circle cx="70.10" cy="879.40" r="4.3" fill="none" stroke="#000" stroke-width="1.0"/>
<line x1="48.60" y1="895.70" x2="93.00" y2="895.70" stroke="#ff00ff" stroke-width="2.6" />
<line x1="49.00" y1="912.50" x2="93.00" y2="912.50" stroke="#000" stroke-width="1.0" stroke-dasharray="1 1.85"/>
<text x="96.50" y="883.60" font-family="Liberation Sans, sans-serif" font-size="11.8" font-weight="normal" text-anchor="start" fill="#1c1c1c" stroke="#161616" stroke-width="0.25">Data</text>
<text x="96.50" y="899.90" font-family="Liberation Sans, sans-serif" font-size="11.8" font-weight="normal" text-anchor="start" fill="#1c1c1c" stroke="#161616" stroke-width="0.25">Fit</text>
<text x="95.90" y="916.30" font-family="Liberation Sans, sans-serif" font-size="11.8" font-weight="normal" text-anchor="start" fill="#1c1c1c" stroke="#161616" stroke-width="0.25" textLength="28.3" lengthAdjust="spacingAndGlyphs">Y = T</text>
<line x1="218.40" y1="826.10" x2="316.00" y2="729.20" stroke="#000" stroke-width="0.8" stroke-dasharray="1 2"/>
<line x1="218.40" y1="826.10" x2="316.00" y2="729.20" stroke="#666666" stroke-width="2.5" />
<circle cx="217.56" cy="826.93" r="4.3" fill="none" stroke="#7e2f8e" stroke-width="1.3"/>
<circle cx="217.67" cy="826.83" r="4.3" fill="none" stroke="#7e2f8e" stroke-width="1.3"/>
<circle cx="217.78" cy="826.72" r="4.3" fill="none" stroke="#7e2f8e" stroke-width="1.3"/>
<circle cx="217.89" cy="826.61" r="4.3" fill="none" stroke="#7e2f8e" stroke-width="1.3"/>
<circle cx="218.00" cy="826.50" r="4.3" fill="none" stroke="#7e2f8e" stroke-width="1.3"/>
<circle cx="218.22" cy="826.28" r="4.3" fill="none" stroke="#7e2f8e" stroke-width="1.3"/>
<circle cx="218.54" cy="825.96" r="4.3" fill="none" stroke="#7e2f8e" stroke-width="1.3"/>
<circle cx="218.87" cy="825.64" r="4.3" fill="none" stroke="#7e2f8e" stroke-width="1.3"/>
<circle cx="219.19" cy="825.31" r="4.3" fill="none" stroke="#7e2f8e" stroke-width="1.3"/>
<circle cx="219.52" cy="824.99" r="4.3" fill="none" stroke="#7e2f8e" stroke-width="1.3"/>
<circle cx="219.85" cy="824.66" r="4.3" fill="none" stroke="#7e2f8e" stroke-width="1.3"/>
<circle cx="220.17" cy="824.34" r="4.3" fill="none" stroke="#7e2f8e" stroke-width="1.3"/>
<circle cx="220.51" cy="824.01" r="4.3" fill="none" stroke="#7e2f8e" stroke-width="1.3"/>
<circle cx="220.86" cy="823.65" r="4.3" fill="none" stroke="#7e2f8e" stroke-width="1.3"/>
<circle cx="221.22" cy="823.30" r="4.3" fill="none" stroke="#7e2f8e" stroke-width="1.3"/>
<circle cx="221.57" cy="822.95" r="4.3" fill="none" stroke="#7e2f8e" stroke-width="1.3"/>
<circle cx="221.92" cy="822.60" r="4.3" fill="none" stroke="#7e2f8e" stroke-width="1.3"/>
<circle cx="222.27" cy="822.25" r="4.3" fill="none" stroke="#7e2f8e" stroke-width="1.3"/>
<circle cx="222.58" cy="821.95" r="4.3" fill="none" stroke="#7e2f8e" stroke-width="1.3"/>
<circle cx="222.89" cy="821.64" r="4.3" fill="none" stroke="#7e2f8e" stroke-width="1.3"/>
<circle cx="223.20" cy="821.34" r="4.3" fill="none" stroke="#7e2f8e" stroke-width="1.3"/>
<circle cx="223.50" cy="821.03" r="4.3" fill="none" stroke="#7e2f8e" stroke-width="1.3"/>
<circle cx="223.81" cy="820.73" r="4.3" fill="none" stroke="#7e2f8e" stroke-width="1.3"/>
<circle cx="224.31" cy="820.24" r="4.3" fill="none" stroke="#7e2f8e" stroke-width="1.3"/>
<circle cx="224.84" cy="819.71" r="4.3" fill="none" stroke="#7e2f8e" stroke-width="1.3"/>
<circle cx="225.37" cy="819.18" r="4.3" fill="none" stroke="#7e2f8e" stroke-width="1.3"/>
<circle cx="225.90" cy="818.66" r="4.3" fill="none" stroke="#7e2f8e" stroke-width="1.3"/>
<circle cx="226.43" cy="818.13" r="4.3" fill="none" stroke="#7e2f8e" stroke-width="1.3"/>
<circle cx="226.98" cy="817.58" r="4.3" fill="none" stroke="#7e2f8e" stroke-width="1.3"/>
<circle cx="227.55" cy="817.02" r="4.3" fill="none" stroke="#7e2f8e" stroke-width="1.3"/>
<circle cx="228.12" cy="816.45" r="4.3" fill="none" stroke="#7e2f8e" stroke-width="1.3"/>
<circle cx="228.69" cy="815.89" r="4.3" fill="none" stroke="#7e2f8e" stroke-width="1.3"/>
<circle cx="229.25" cy="815.32" r="4.3" fill="none" stroke="#7e2f8e" stroke-width="1.3"/>
<circle cx="229.90" cy="814.68" r="4.3" fill="none" stroke="#7e2f8e" stroke-width="1.3"/>
<circle cx="230.69" cy="813.90" r="4.3" fill="none" stroke="#7e2f8e" stroke-width="1.3"/>
<circle cx="231.48" cy="813.11" r="4.3" fill="none" stroke="#7e2f8e" stroke-width="1.3"/>
<circle cx="232.27" cy="812.33" r="4.3" fill="none" stroke="#7e2f8e" stroke-width="1.3"/>
<circle cx="233.07" cy="811.54" r="4.3" fill="none" stroke="#7e2f8e" stroke-width="1.3"/>
<circle cx="233.87" cy="810.74" r="4.3" fill="none" stroke="#7e2f8e" stroke-width="1.3"/>
<circle cx="234.76" cy="809.86" r="4.3" fill="none" stroke="#7e2f8e" stroke-width="1.3"/>
<circle cx="235.66" cy="808.97" r="4.3" fill="none" stroke="#7e2f8e" stroke-width="1.3"/>
<circle cx="236.55" cy="808.08" r="4.3" fill="none" stroke="#7e2f8e" stroke-width="1.3"/>
<circle cx="237.44" cy="807.19" r="4.3" fill="none" stroke="#7e2f8e" stroke-width="1.3"/>
<circle cx="238.34" cy="806.30" r="4.3" fill="none" stroke="#7e2f8e" stroke-width="1.3"/>
<circle cx="239.42" cy="805.23" r="4.3" fill="none" stroke="#7e2f8e" stroke-width="1.3"/>
<circle cx="240.52" cy="804.13" r="4.3" fill="none" stroke="#7e2f8e" stroke-width="1.3"/>
<circle cx="241.63" cy="803.03" r="4.3" fill="none" stroke="#7e2f8e" stroke-width="1.3"/>
<circle cx="242.74" cy="801.93" r="4.3" fill="none" stroke="#7e2f8e" stroke-width="1.3"/>
<circle cx="243.85" cy="800.83" r="4.3" fill="none" stroke="#7e2f8e" stroke-width="1.3"/>
<circle cx="244.93" cy="799.76" r="4.3" fill="none" stroke="#7e2f8e" stroke-width="1.3"/>
<circle cx="246.00" cy="798.70" r="4.3" fill="none" stroke="#7e2f8e" stroke-width="1.3"/>
<circle cx="247.07" cy="797.64" r="4.3" fill="none" stroke="#7e2f8e" stroke-width="1.3"/>
<circle cx="248.14" cy="796.58" r="4.3" fill="none" stroke="#7e2f8e" stroke-width="1.3"/>
<circle cx="249.14" cy="795.58" r="4.3" fill="none" stroke="#7e2f8e" stroke-width="1.3"/>
<circle cx="250.11" cy="794.62" r="4.3" fill="none" stroke="#7e2f8e" stroke-width="1.3"/>
<circle cx="251.07" cy="793.67" r="4.3" fill="none" stroke="#7e2f8e" stroke-width="1.3"/>
<circle cx="252.03" cy="792.71" r="4.3" fill="none" stroke="#7e2f8e" stroke-width="1.3"/>
<circle cx="253.07" cy="791.68" r="4.3" fill="none" stroke="#7e2f8e" stroke-width="1.3"/>
<circle cx="254.24" cy="790.52" r="4.3" fill="none" stroke="#7e2f8e" stroke-width="1.3"/>
<circle cx="255.40" cy="789.37" r="4.3" fill="none" stroke="#7e2f8e" stroke-width="1.3"/>
<circle cx="256.56" cy="788.21" r="4.3" fill="none" stroke="#7e2f8e" stroke-width="1.3"/>
<circle cx="257.75" cy="787.04" r="4.3" fill="none" stroke="#7e2f8e" stroke-width="1.3"/>
<circle cx="259.03" cy="785.77" r="4.3" fill="none" stroke="#7e2f8e" stroke-width="1.3"/>
<circle cx="260.30" cy="784.50" r="4.3" fill="none" stroke="#7e2f8e" stroke-width="1.3"/>
<circle cx="261.58" cy="783.23" r="4.3" fill="none" stroke="#7e2f8e" stroke-width="1.3"/>
<circle cx="262.86" cy="781.96" r="4.3" fill="none" stroke="#7e2f8e" stroke-width="1.3"/>
<circle cx="264.29" cy="780.54" r="4.3" fill="none" stroke="#7e2f8e" stroke-width="1.3"/>
<circle cx="265.72" cy="779.12" r="4.3" fill="none" stroke="#7e2f8e" stroke-width="1.3"/>
<circle cx="267.15" cy="777.70" r="4.3" fill="none" stroke="#7e2f8e" stroke-width="1.3"/>
<circle cx="268.58" cy="776.28" r="4.3" fill="none" stroke="#7e2f8e" stroke-width="1.3"/>
<circle cx="270.06" cy="774.81" r="4.3" fill="none" stroke="#7e2f8e" stroke-width="1.3"/>
<circle cx="271.55" cy="773.33" r="4.3" fill="none" stroke="#7e2f8e" stroke-width="1.3"/>
<circle cx="273.04" cy="771.86" r="4.3" fill="none" stroke="#7e2f8e" stroke-width="1.3"/>
<circle cx="274.52" cy="770.38" r="4.3" fill="none" stroke="#7e2f8e" stroke-width="1.3"/>
<circle cx="275.93" cy="768.98" r="4.3" fill="none" stroke="#7e2f8e" stroke-width="1.3"/>
<circle cx="277.29" cy="767.63" r="4.3" fill="none" stroke="#7e2f8e" stroke-width="1.3"/>
<circle cx="278.65" cy="766.28" r="4.3" fill="none" stroke="#7e2f8e" stroke-width="1.3"/>
<circle cx="280.01" cy="764.93" r="4.3" fill="none" stroke="#7e2f8e" stroke-width="1.3"/>
<circle cx="281.46" cy="763.49" r="4.3" fill="none" stroke="#7e2f8e" stroke-width="1.3"/>
<circle cx="283.03" cy="761.93" r="4.3" fill="none" stroke="#7e2f8e" stroke-width="1.3"/>
<circle cx="284.60" cy="760.37" r="4.3" fill="none" stroke="#7e2f8e" stroke-width="1.3"/>
<circle cx="286.17" cy="758.81" r="4.3" fill="none" stroke="#7e2f8e" stroke-width="1.3"/>
<circle cx="287.82" cy="757.18" r="4.3" fill="none" stroke="#7e2f8e" stroke-width="1.3"/>
<circle cx="289.65" cy="755.36" r="4.3" fill="none" stroke="#7e2f8e" stroke-width="1.3"/>
<circle cx="291.49" cy="753.54" r="4.3" fill="none" stroke="#7e2f8e" stroke-width="1.3"/>
<circle cx="293.33" cy="751.71" r="4.3" fill="none" stroke="#7e2f8e" stroke-width="1.3"/>
<circle cx="295.17" cy="749.88" r="4.3" fill="none" stroke="#7e2f8e" stroke-width="1.3"/>
<circle cx="297.21" cy="747.86" r="4.3" fill="none" stroke="#7e2f8e" stroke-width="1.3"/>
<circle cx="299.24" cy="745.84" r="4.3" fill="none" stroke="#7e2f8e" stroke-width="1.3"/>
<circle cx="301.28" cy="743.82" r="4.3" fill="none" stroke="#7e2f8e" stroke-width="1.3"/>
<circle cx="303.31" cy="741.80" r="4.3" fill="none" stroke="#7e2f8e" stroke-width="1.3"/>
<circle cx="305.23" cy="739.89" r="4.3" fill="none" stroke="#7e2f8e" stroke-width="1.3"/>
<circle cx="307.14" cy="738.00" r="4.3" fill="none" stroke="#7e2f8e" stroke-width="1.3"/>
<circle cx="309.05" cy="736.10" r="4.3" fill="none" stroke="#7e2f8e" stroke-width="1.3"/>
<circle cx="310.95" cy="734.21" r="4.3" fill="none" stroke="#7e2f8e" stroke-width="1.3"/>
<circle cx="312.63" cy="732.54" r="4.3" fill="none" stroke="#7e2f8e" stroke-width="1.3"/>
<circle cx="314.19" cy="730.99" r="4.3" fill="none" stroke="#7e2f8e" stroke-width="1.3"/>
<circle cx="315.76" cy="729.44" r="4.3" fill="none" stroke="#7e2f8e" stroke-width="1.3"/>
<rect x="218.40" y="729.20" width="97.60" height="96.90" fill="none" stroke="#262626" stroke-width="1.2"/>
<text x="213.20" y="734.10" font-family="Liberation Sans, sans-serif" font-size="12.2" font-weight="normal" text-anchor="end" fill="#3c3c3c" stroke="#3c3c3c" stroke-width="0.25">1</text>
<text x="213.20" y="759.10" font-family="Liberation Sans, sans-serif" font-size="12.2" font-weight="normal" text-anchor="end" fill="#3c3c3c" stroke="#3c3c3c" stroke-width="0.25">0.95</text>
<text x="213.20" y="783.60" font-family="Liberation Sans, sans-serif" font-size="12.2" font-weight="normal" text-anchor="end" fill="#3c3c3c" stroke="#3c3c3c" stroke-width="0.25">0.9</text>
<text x="213.20" y="808.20" font-family="Liberation Sans, sans-serif" font-size="12.2" font-weight="normal" text-anchor="end" fill="#3c3c3c" stroke="#3c3c3c" stroke-width="0.25">0.85</text>
<text x="266.20" y="844.20" font-family="Liberation Sans, sans-serif" font-size="12.2" font-weight="normal" text-anchor="middle" fill="#3c3c3c" stroke="#3c3c3c" stroke-width="0.25">0.9</text>
<text x="266.30" y="723.10" font-family="Liberation Serif, serif" font-size="13.4" font-weight="bold" text-anchor="middle" fill="#000" >All: R<tspan fill="#777">=</tspan>1</text>
<text x="267.00" y="858.80" font-family="Liberation Serif, serif" font-size="13.4" font-weight="normal" text-anchor="middle" fill="#444" stroke="#444" stroke-width="0.25">Target</text>
<text transform="translate(184.80,811.80) rotate(-90)" font-family="Liberation Serif, serif" font-size="13.4" text-anchor="middle" fill="#444" stroke="#444" stroke-width="0.2" textLength="163.4" lengthAdjust="spacingAndGlyphs">Output ~<tspan fill="#d4d4d4" font-weight="bold">=</tspan> 1*Target + 1.6e-05</text>
<rect x="231.90" y="868.20" width="84.80" height="51.60" fill="#fff" stroke="#262626" stroke-width="1.2"/>
<circle cx="257.60" cy="878.70" r="4.3" fill="none" stroke="#7e2f8e" stroke-width="1.3"/>
<line x1="236.60" y1="893.90" x2="279.80" y2="893.90" stroke="#666666" stroke-width="2.6" />
<line x1="237.00" y1="911.50" x2="279.80" y2="911.50" stroke="#000" stroke-width="1.0" stroke-dasharray="1 1.85"/>
<text x="283.50" y="882.90" font-family="Liberation Sans, sans-serif" font-size="11.8" font-weight="normal" text-anchor="start" fill="#1c1c1c" stroke="#161616" stroke-width="0.25">Data</text>
<text x="283.50" y="898.10" font-family="Liberation Sans, sans-serif" font-size="11.8" font-weight="normal" text-anchor="start" fill="#1c1c1c" stroke="#161616" stroke-width="0.25">Fit</text>
<text x="282.90" y="915.60" font-family="Liberation Sans, sans-serif" font-size="11.8" font-weight="normal" text-anchor="start" fill="#1c1c1c" stroke="#161616" stroke-width="0.25" textLength="28.3" lengthAdjust="spacingAndGlyphs">Y = T</text>
<text x="91.30" y="455.80" font-family="Liberation Serif, serif" font-size="14.6" font-weight="normal" text-anchor="start" fill="#000" >a)</text>
<text x="118.60" y="455.80" font-family="Liberation Serif, serif" font-size="14.6" font-weight="bold" text-anchor="start" fill="#000"  textLength="134.4" lengthAdjust="spacingAndGlyphs">Regression of S-3 C-1</text>
<text x="91.30" y="948.50" font-family="Liberation Serif, serif" font-size="14.6" font-weight="normal" text-anchor="start" fill="#000" >c)</text>
<text x="118.60" y="948.50" font-family="Liberation Serif, serif" font-size="14.6" font-weight="bold" text-anchor="start" fill="#000"  textLength="136.0" lengthAdjust="spacingAndGlyphs">Regression of S-3 C-2</text>
<text x="442.50" y="455.40" font-family="Liberation Serif, serif" font-size="14.6" font-weight="normal" text-anchor="start" fill="#000" >b)</text>
<text x="470.60" y="455.40" font-family="Liberation Serif, serif" font-size="14.6" font-weight="bold" text-anchor="start" fill="#000"  textLength="151.0" lengthAdjust="spacingAndGlyphs">Fitness graph of S-3 C-1</text>
<text x="442.50" y="947.90" font-family="Liberation Serif, serif" font-size="14.6" font-weight="normal" text-anchor="start" fill="#000" >d)</text>
<text x="470.60" y="947.90" font-family="Liberation Serif, serif" font-size="14.6" font-weight="bold" text-anchor="start" fill="#000"  textLength="152.0" lengthAdjust="spacingAndGlyphs">Fitness graph of S-3 C-2</text>
<text x="543.70" y="10.60" font-family="Liberation Serif, serif" font-size="13.25" font-weight="bold" text-anchor="middle" fill="#000"  textLength="276.6" lengthAdjust="spacingAndGlyphs">Response of Output Element 1 for Time-Series 1</text>
<line x1="459.80" y1="218.60" x2="459.80" y2="216.10" stroke="#262626" stroke-width="1" />
<line x1="459.80" y1="17.10" x2="459.80" y2="19.60" stroke="#262626" stroke-width="1" />
<line x1="515.10" y1="218.60" x2="515.10" y2="216.10" stroke="#262626" stroke-width="1" />
<line x1="515.10" y1="17.10" x2="515.10" y2="19.60" stroke="#262626" stroke-width="1" />
<line x1="570.50" y1="218.60" x2="570.50" y2="216.10" stroke="#262626" stroke-width="1" />
<line x1="570.50" y1="17.10" x2="570.50" y2="19.60" stroke="#262626" stroke-width="1" />
<line x1="625.50" y1="218.60" x2="625.50" y2="216.10" stroke="#262626" stroke-width="1" />
<line x1="625.50" y1="17.10" x2="625.50" y2="19.60" stroke="#262626" stroke-width="1" />
<line x1="407.60" y1="168.23" x2="410.10" y2="168.23" stroke="#262626" stroke-width="1" />
<line x1="677.40" y1="168.23" x2="674.90" y2="168.23" stroke="#262626" stroke-width="1" />
<line x1="407.60" y1="117.85" x2="410.10" y2="117.85" stroke="#262626" stroke-width="1" />
<line x1="677.40" y1="117.85" x2="674.90" y2="117.85" stroke="#262626" stroke-width="1" />
<line x1="407.60" y1="67.48" x2="410.10" y2="67.48" stroke="#262626" stroke-width="1" />
<line x1="677.40" y1="67.48" x2="674.90" y2="67.48" stroke="#262626" stroke-width="1" />
<polyline points="407.60,184.20 410.38,184.12 413.16,184.03 415.94,183.95 418.73,183.82 421.51,183.63 424.29,183.44 427.07,183.25 429.85,183.00 432.63,182.57 435.41,182.14 438.20,181.72 440.98,181.29 443.76,180.79 446.54,180.29 449.32,179.79 452.10,179.29 454.88,178.63 457.67,177.93 460.45,177.24 463.23,176.54 466.01,175.72 468.79,174.82 471.57,173.93 474.35,173.03 477.14,172.04 479.92,170.91 482.70,169.77 485.48,168.63 488.26,167.44 491.04,166.26 493.82,165.08 496.61,163.90 499.39,162.72 502.17,161.48 504.95,160.24 507.73,159.00 510.51,157.76 513.29,156.52 516.08,154.90 518.86,153.20 521.64,151.56 524.42,149.97 527.20,148.38 529.98,146.78 532.76,145.19 535.55,143.63 538.33,142.07 541.11,140.51 543.89,138.95 546.67,137.36 549.45,135.53 552.24,133.70 555.02,131.88 557.80,130.05 560.58,128.24 563.36,126.45 566.14,124.66 568.92,122.87 571.71,121.08 574.49,119.07 577.27,116.97 580.05,114.87 582.83,112.77 585.61,110.67 588.39,108.26 591.18,105.84 593.96,103.41 596.74,100.99 599.52,98.61 602.30,96.32 605.08,94.04 607.86,91.75 610.65,89.47 613.43,87.05 616.21,84.55 618.99,82.06 621.77,79.56 624.55,76.94 627.33,74.13 630.12,71.33 632.90,68.52 635.68,65.65 638.46,62.59 641.24,59.52 644.02,56.45 646.80,53.38 649.59,50.05 652.37,46.72 655.15,43.39 657.93,40.06 660.71,36.85 663.49,33.67 666.27,30.48 669.06,27.30 671.84,24.24 674.62,21.27 677.40,18.30" fill="none" stroke="#000" stroke-width="0.8"/>
<path d="M403.10 184.20H412.10M407.60 179.70V188.70" stroke="#18238c" stroke-width="1.2" fill="none"/><path d="M405.88 184.12H414.88M410.38 179.62V188.62" stroke="#18238c" stroke-width="1.2" fill="none"/><path d="M408.66 184.03H417.66M413.16 179.53V188.53" stroke="#18238c" stroke-width="1.2" fill="none"/><path d="M411.44 183.95H420.44M415.94 179.45V188.45" stroke="#18238c" stroke-width="1.2" fill="none"/><path d="M414.23 183.82H423.23M418.73 179.32V188.32" stroke="#2a72c0" stroke-width="1.2" fill="none"/><path d="M417.01 183.63H426.01M421.51 179.13V188.13" stroke="#2ac8c8" stroke-width="1.2" fill="none"/><path d="M419.79 183.44H428.79M424.29 178.94V187.94" stroke="#18238c" stroke-width="1.2" fill="none"/><path d="M422.57 183.25H431.57M427.07 178.75V187.75" stroke="#2a72c0" stroke-width="1.2" fill="none"/><path d="M425.35 183.00H434.35M429.85 178.50V187.50" stroke="#18238c" stroke-width="1.2" fill="none"/><path d="M428.13 182.57H437.13M432.63 178.07V187.07" stroke="#2a72c0" stroke-width="1.2" fill="none"/><path d="M430.91 182.14H439.91M435.41 177.64V186.64" stroke="#18238c" stroke-width="1.2" fill="none"/><path d="M433.70 181.72H442.70M438.20 177.22V186.22" stroke="#2ac8c8" stroke-width="1.2" fill="none"/><path d="M436.48 181.29H445.48M440.98 176.79V185.79" stroke="#2ac8c8" stroke-width="1.2" fill="none"/><path d="M439.26 180.79H448.26M443.76 176.29V185.29" stroke="#18238c" stroke-width="1.2" fill="none"/><path d="M442.04 180.29H451.04M446.54 175.79V184.79" stroke="#18238c" stroke-width="1.2" fill="none"/><path d="M444.82 179.79H453.82M449.32 175.29V184.29" stroke="#2ac8c8" stroke-width="1.2" fill="none"/><path d="M447.60 179.29H456.60M452.10 174.79V183.79" stroke="#18238c" stroke-width="1.2" fill="none"/><path d="M450.38 178.63H459.38M454.88 174.13V183.13" stroke="#18238c" stroke-width="1.2" fill="none"/><path d="M453.17 177.93H462.17M457.67 173.43V182.43" stroke="#2a72c0" stroke-width="1.2" fill="none"/><path d="M455.95 177.24H464.95M460.45 172.74V181.74" stroke="#18238c" stroke-width="1.2" fill="none"/><path d="M458.73 176.54H467.73M463.23 172.04V181.04" stroke="#18238c" stroke-width="1.2" fill="none"/><path d="M461.51 175.72H470.51M466.01 171.22V180.22" stroke="#2ac8c8" stroke-width="1.2" fill="none"/><path d="M464.29 174.82H473.29M468.79 170.32V179.32" stroke="#18238c" stroke-width="1.2" fill="none"/><path d="M467.07 173.93H476.07M471.57 169.43V178.43" stroke="#18238c" stroke-width="1.2" fill="none"/><path d="M469.85 173.03H478.85M474.35 168.53V177.53" stroke="#18238c" stroke-width="1.2" fill="none"/><path d="M472.64 172.04H481.64M477.14 167.54V176.54" stroke="#18238c" stroke-width="1.2" fill="none"/><path d="M475.42 170.91H484.42M479.92 166.41V175.41" stroke="#18238c" stroke-width="1.2" fill="none"/><path d="M478.20 169.77H487.20M482.70 165.27V174.27" stroke="#18238c" stroke-width="1.2" fill="none"/><path d="M480.98 168.63H489.98M485.48 164.13V173.13" stroke="#18238c" stroke-width="1.2" fill="none"/><path d="M483.76 167.44H492.76M488.26 162.94V171.94" stroke="#18238c" stroke-width="1.2" fill="none"/><path d="M486.54 166.26H495.54M491.04 161.76V170.76" stroke="#18238c" stroke-width="1.2" fill="none"/><path d="M489.32 165.08H498.32M493.82 160.58V169.58" stroke="#18238c" stroke-width="1.2" fill="none"/><path d="M492.11 163.90H501.11M496.61 159.40V168.40" stroke="#2ac8c8" stroke-width="1.2" fill="none"/><path d="M494.89 162.72H503.89M499.39 158.22V167.22" stroke="#18238c" stroke-width="1.2" fill="none"/><path d="M497.67 161.48H506.67M502.17 156.98V165.98" stroke="#18238c" stroke-width="1.2" fill="none"/><path d="M500.45 160.24H509.45M504.95 155.74V164.74" stroke="#18238c" stroke-width="1.2" fill="none"/><path d="M503.23 159.00H512.23M507.73 154.50V163.50" stroke="#18238c" stroke-width="1.2" fill="none"/><path d="M506.01 157.76H515.01M510.51 153.26V162.26" stroke="#2a72c0" stroke-width="1.2" fill="none"/><path d="M508.79 156.52H517.79M513.29 152.02V161.02" stroke="#2ac8c8" stroke-width="1.2" fill="none"/><path d="M511.58 154.90H520.58M516.08 150.40V159.40" stroke="#18238c" stroke-width="1.2" fill="none"/><path d="M514.36 153.20H523.36M518.86 148.70V157.70" stroke="#18238c" stroke-width="1.2" fill="none"/><path d="M517.14 151.56H526.14M521.64 147.06V156.06" stroke="#18238c" stroke-width="1.2" fill="none"/><path d="M519.92 149.97H528.92M524.42 145.47V154.47" stroke="#2a72c0" stroke-width="1.2" fill="none"/><path d="M522.70 148.38H531.70M527.20 143.88V152.88" stroke="#2a72c0" stroke-width="1.2" fill="none"/><path d="M525.48 146.78H534.48M529.98 142.28V151.28" stroke="#18238c" stroke-width="1.2" fill="none"/><path d="M528.26 145.19H537.26M532.76 140.69V149.69" stroke="#18238c" stroke-width="1.2" fill="none"/><path d="M531.05 143.63H540.05M535.55 139.13V148.13" stroke="#18238c" stroke-width="1.2" fill="none"/><path d="M533.83 142.07H542.83M538.33 137.57V146.57" stroke="#18238c" stroke-width="1.2" fill="none"/><path d="M536.61 140.51H545.61M541.11 136.01V145.01" stroke="#2a72c0" stroke-width="1.2" fill="none"/><path d="M539.39 138.95H548.39M543.89 134.45V143.45" stroke="#2ac8c8" stroke-width="1.2" fill="none"/><path d="M542.17 137.36H551.17M546.67 132.86V141.86" stroke="#18238c" stroke-width="1.2" fill="none"/><path d="M544.95 135.53H553.95M549.45 131.03V140.03" stroke="#18238c" stroke-width="1.2" fill="none"/><path d="M547.74 133.70H556.74M552.24 129.20V138.20" stroke="#2a72c0" stroke-width="1.2" fill="none"/><path d="M550.52 131.88H559.52M555.02 127.38V136.38" stroke="#2a72c0" stroke-width="1.2" fill="none"/><path d="M553.30 130.05H562.30M557.80 125.55V134.55" stroke="#2ac8c8" stroke-width="1.2" fill="none"/><path d="M556.08 128.24H565.08M560.58 123.74V132.74" stroke="#18238c" stroke-width="1.2" fill="none"/><path d="M558.86 126.45H567.86M563.36 121.95V130.95" stroke="#18238c" stroke-width="1.2" fill="none"/><path d="M561.64 124.66H570.64M566.14 120.16V129.16" stroke="#18238c" stroke-width="1.2" fill="none"/><path d="M564.42 122.87H573.42M568.92 118.37V127.37" stroke="#18238c" stroke-width="1.2" fill="none"/><path d="M567.21 121.08H576.21M571.71 116.58V125.58" stroke="#2a72c0" stroke-width="1.2" fill="none"/><path d="M569.99 119.07H578.99M574.49 114.57V123.57" stroke="#2ac8c8" stroke-width="1.2" fill="none"/><path d="M572.77 116.97H581.77M577.27 112.47V121.47" stroke="#18238c" stroke-width="1.2" fill="none"/><path d="M575.55 114.87H584.55M580.05 110.37V119.37" stroke="#18238c" stroke-width="1.2" fill="none"/><path d="M578.33 112.77H587.33M582.83 108.27V117.27" stroke="#18238c" stroke-width="1.2" fill="none"/><path d="M581.11 110.67H590.11M585.61 106.17V115.17" stroke="#18238c" stroke-width="1.2" fill="none"/><path d="M583.89 108.26H592.89M588.39 103.76V112.76" stroke="#2a72c0" stroke-width="1.2" fill="none"/><path d="M586.68 105.84H595.68M591.18 101.34V110.34" stroke="#18238c" stroke-width="1.2" fill="none"/><path d="M589.46 103.41H598.46M593.96 98.91V107.91" stroke="#18238c" stroke-width="1.2" fill="none"/><path d="M592.24 100.99H601.24M596.74 96.49V105.49" stroke="#2a72c0" stroke-width="1.2" fill="none"/><path d="M595.02 98.61H604.02M599.52 94.11V103.11" stroke="#2ac8c8" stroke-width="1.2" fill="none"/><path d="M597.80 96.32H606.80M602.30 91.82V100.82" stroke="#18238c" stroke-width="1.2" fill="none"/><path d="M600.58 94.04H609.58M605.08 89.54V98.54" stroke="#18238c" stroke-width="1.2" fill="none"/><path d="M603.36 91.75H612.36M607.86 87.25V96.25" stroke="#18238c" stroke-width="1.2" fill="none"/><path d="M606.15 89.47H615.15M610.65 84.97V93.97" stroke="#18238c" stroke-width="1.2" fill="none"/><path d="M608.93 87.05H617.93M613.43 82.55V91.55" stroke="#18238c" stroke-width="1.2" fill="none"/><path d="M611.71 84.55H620.71M616.21 80.05V89.05" stroke="#18238c" stroke-width="1.2" fill="none"/><path d="M614.49 82.06H623.49M618.99 77.56V86.56" stroke="#2ac8c8" stroke-width="1.2" fill="none"/><path d="M617.27 79.56H626.27M621.77 75.06V84.06" stroke="#18238c" stroke-width="1.2" fill="none"/><path d="M620.05 76.94H629.05M624.55 72.44V81.44" stroke="#2a72c0" stroke-width="1.2" fill="none"/><path d="M622.83 74.13H631.83M627.33 69.63V78.63" stroke="#18238c" stroke-width="1.2" fill="none"/><path d="M625.62 71.33H634.62M630.12 66.83V75.83" stroke="#18238c" stroke-width="1.2" fill="none"/><path d="M628.40 68.52H637.40M632.90 64.02V73.02" stroke="#18238c" stroke-width="1.2" fill="none"/><path d="M631.18 65.65H640.18M635.68 61.15V70.15" stroke="#18238c" stroke-width="1.2" fill="none"/><path d="M633.96 62.59H642.96M638.46 58.09V67.09" stroke="#18238c" stroke-width="1.2" fill="none"/><path d="M636.74 59.52H645.74M641.24 55.02V64.02" stroke="#2ac8c8" stroke-width="1.2" fill="none"/><path d="M639.52 56.45H648.52M644.02 51.95V60.95" stroke="#18238c" stroke-width="1.2" fill="none"/><path d="M642.30 53.38H651.30M646.80 48.88V57.88" stroke="#18238c" stroke-width="1.2" fill="none"/><path d="M645.09 50.05H654.09M649.59 45.55V54.55" stroke="#18238c" stroke-width="1.2" fill="none"/><path d="M647.87 46.72H656.87M652.37 42.22V51.22" stroke="#18238c" stroke-width="1.2" fill="none"/><path d="M650.65 43.39H659.65M655.15 38.89V47.89" stroke="#18238c" stroke-width="1.2" fill="none"/><path d="M653.43 40.06H662.43M657.93 35.56V44.56" stroke="#18238c" stroke-width="1.2" fill="none"/><path d="M656.21 36.85H665.21M660.71 32.35V41.35" stroke="#18238c" stroke-width="1.2" fill="none"/><path d="M658.99 33.67H667.99M663.49 29.17V38.17" stroke="#18238c" stroke-width="1.2" fill="none"/><path d="M661.77 30.48H670.77M666.27 25.98V34.98" stroke="#2a72c0" stroke-width="1.2" fill="none"/><path d="M664.56 27.30H673.56M669.06 22.80V31.80" stroke="#2ac8c8" stroke-width="1.2" fill="none"/><path d="M667.34 24.24H676.34M671.84 19.74V28.74" stroke="#18238c" stroke-width="1.2" fill="none"/><path d="M670.12 21.27H679.12M674.62 16.77V25.77" stroke="#18238c" stroke-width="1.2" fill="none"/><path d="M672.90 18.30H681.90M677.40 13.80V22.80" stroke="#18238c" stroke-width="1.2" fill="none"/>
<rect x="406.85" y="183.45" width="1.5" height="1.5" fill="#0010e0"/><rect x="409.63" y="183.37" width="1.5" height="1.5" fill="#0010e0"/><rect x="412.41" y="183.28" width="1.5" height="1.5" fill="#0010e0"/><rect x="415.19" y="183.20" width="1.5" height="1.5" fill="#0010e0"/><rect x="417.98" y="183.07" width="1.5" height="1.5" fill="#e01010"/><rect x="420.76" y="182.88" width="1.5" height="1.5" fill="#10b010"/><rect x="423.54" y="182.69" width="1.5" height="1.5" fill="#0010e0"/><rect x="426.32" y="182.50" width="1.5" height="1.5" fill="#e01010"/><rect x="429.10" y="182.25" width="1.5" height="1.5" fill="#0010e0"/><rect x="431.88" y="181.82" width="1.5" height="1.5" fill="#e01010"/><rect x="434.66" y="181.39" width="1.5" height="1.5" fill="#0010e0"/><rect x="437.45" y="180.97" width="1.5" height="1.5" fill="#10b010"/><rect x="440.23" y="180.54" width="1.5" height="1.5" fill="#10b010"/><rect x="443.01" y="180.04" width="1.5" height="1.5" fill="#0010e0"/><rect x="445.79" y="179.54" width="1.5" height="1.5" fill="#0010e0"/><rect x="448.57" y="179.04" width="1.5" height="1.5" fill="#10b010"/><rect x="451.35" y="178.54" width="1.5" height="1.5" fill="#0010e0"/><rect x="454.13" y="177.88" width="1.5" height="1.5" fill="#0010e0"/><rect x="456.92" y="177.18" width="1.5" height="1.5" fill="#e01010"/><rect x="459.70" y="176.49" width="1.5" height="1.5" fill="#0010e0"/><rect x="462.48" y="175.79" width="1.5" height="1.5" fill="#0010e0"/><rect x="465.26" y="174.97" width="1.5" height="1.5" fill="#10b010"/><rect x="468.04" y="174.07" width="1.5" height="1.5" fill="#0010e0"/><rect x="470.82" y="173.18" width="1.5" height="1.5" fill="#0010e0"/><rect x="473.60" y="172.28" width="1.5" height="1.5" fill="#0010e0"/><rect x="476.39" y="171.29" width="1.5" height="1.5" fill="#0010e0"/><rect x="479.17" y="170.16" width="1.5" height="1.5" fill="#0010e0"/><rect x="481.95" y="169.02" width="1.5" height="1.5" fill="#0010e0"/><rect x="484.73" y="167.88" width="1.5" height="1.5" fill="#0010e0"/><rect x="487.51" y="166.69" width="1.5" height="1.5" fill="#0010e0"/><rect x="490.29" y="165.51" width="1.5" height="1.5" fill="#0010e0"/><rect x="493.07" y="164.33" width="1.5" height="1.5" fill="#0010e0"/><rect x="495.86" y="163.15" width="1.5" height="1.5" fill="#10b010"/><rect x="498.64" y="161.97" width="1.5" height="1.5" fill="#0010e0"/><rect x="501.42" y="160.73" width="1.5" height="1.5" fill="#0010e0"/><rect x="504.20" y="159.49" width="1.5" height="1.5" fill="#0010e0"/><rect x="506.98" y="158.25" width="1.5" height="1.5" fill="#0010e0"/><rect x="509.76" y="157.01" width="1.5" height="1.5" fill="#e01010"/><rect x="512.54" y="155.77" width="1.5" height="1.5" fill="#10b010"/><rect x="515.33" y="154.15" width="1.5" height="1.5" fill="#0010e0"/><rect x="518.11" y="152.45" width="1.5" height="1.5" fill="#0010e0"/><rect x="520.89" y="150.81" width="1.5" height="1.5" fill="#0010e0"/><rect x="523.67" y="149.22" width="1.5" height="1.5" fill="#e01010"/><rect x="526.45" y="147.63" width="1.5" height="1.5" fill="#e01010"/><rect x="529.23" y="146.03" width="1.5" height="1.5" fill="#0010e0"/><rect x="532.01" y="144.44" width="1.5" height="1.5" fill="#0010e0"/><rect x="534.80" y="142.88" width="1.5" height="1.5" fill="#0010e0"/><rect x="537.58" y="141.32" width="1.5" height="1.5" fill="#0010e0"/><rect x="540.36" y="139.76" width="1.5" height="1.5" fill="#e01010"/><rect x="543.14" y="138.20" width="1.5" height="1.5" fill="#10b010"/><rect x="545.92" y="136.61" width="1.5" height="1.5" fill="#0010e0"/><rect x="548.70" y="134.78" width="1.5" height="1.5" fill="#0010e0"/><rect x="551.49" y="132.95" width="1.5" height="1.5" fill="#e01010"/><rect x="554.27" y="131.13" width="1.5" height="1.5" fill="#e01010"/><rect x="557.05" y="129.30" width="1.5" height="1.5" fill="#10b010"/><rect x="559.83" y="127.49" width="1.5" height="1.5" fill="#0010e0"/><rect x="562.61" y="125.70" width="1.5" height="1.5" fill="#0010e0"/><rect x="565.39" y="123.91" width="1.5" height="1.5" fill="#0010e0"/><rect x="568.17" y="122.12" width="1.5" height="1.5" fill="#0010e0"/><rect x="570.96" y="120.33" width="1.5" height="1.5" fill="#e01010"/><rect x="573.74" y="118.32" width="1.5" height="1.5" fill="#10b010"/><rect x="576.52" y="116.22" width="1.5" height="1.5" fill="#0010e0"/><rect x="579.30" y="114.12" width="1.5" height="1.5" fill="#0010e0"/><rect x="582.08" y="112.02" width="1.5" height="1.5" fill="#0010e0"/><rect x="584.86" y="109.92" width="1.5" height="1.5" fill="#0010e0"/><rect x="587.64" y="107.51" width="1.5" height="1.5" fill="#e01010"/><rect x="590.43" y="105.09" width="1.5" height="1.5" fill="#0010e0"/><rect x="593.21" y="102.66" width="1.5" height="1.5" fill="#0010e0"/><rect x="595.99" y="100.24" width="1.5" height="1.5" fill="#e01010"/><rect x="598.77" y="97.86" width="1.5" height="1.5" fill="#10b010"/><rect x="601.55" y="95.57" width="1.5" height="1.5" fill="#0010e0"/><rect x="604.33" y="93.29" width="1.5" height="1.5" fill="#0010e0"/><rect x="607.11" y="91.00" width="1.5" height="1.5" fill="#0010e0"/><rect x="609.90" y="88.72" width="1.5" height="1.5" fill="#0010e0"/><rect x="612.68" y="86.30" width="1.5" height="1.5" fill="#0010e0"/><rect x="615.46" y="83.80" width="1.5" height="1.5" fill="#0010e0"/><rect x="618.24" y="81.31" width="1.5" height="1.5" fill="#10b010"/><rect x="621.02" y="78.81" width="1.5" height="1.5" fill="#0010e0"/><rect x="623.80" y="76.19" width="1.5" height="1.5" fill="#e01010"/><rect x="626.58" y="73.38" width="1.5" height="1.5" fill="#0010e0"/><rect x="629.37" y="70.58" width="1.5" height="1.5" fill="#0010e0"/><rect x="632.15" y="67.77" width="1.5" height="1.5" fill="#0010e0"/><rect x="634.93" y="64.90" width="1.5" height="1.5" fill="#0010e0"/><rect x="637.71" y="61.84" width="1.5" height="1.5" fill="#0010e0"/><rect x="640.49" y="58.77" width="1.5" height="1.5" fill="#10b010"/><rect x="643.27" y="55.70" width="1.5" height="1.5" fill="#0010e0"/><rect x="646.05" y="52.63" width="1.5" height="1.5" fill="#0010e0"/><rect x="648.84" y="49.30" width="1.5" height="1.5" fill="#0010e0"/><rect x="651.62" y="45.97" width="1.5" height="1.5" fill="#0010e0"/><rect x="654.40" y="42.64" width="1.5" height="1.5" fill="#0010e0"/><rect x="657.18" y="39.31" width="1.5" height="1.5" fill="#0010e0"/><rect x="659.96" y="36.10" width="1.5" height="1.5" fill="#0010e0"/><rect x="662.74" y="32.92" width="1.5" height="1.5" fill="#0010e0"/><rect x="665.52" y="29.73" width="1.5" height="1.5" fill="#e01010"/><rect x="668.31" y="26.55" width="1.5" height="1.5" fill="#10b010"/><rect x="671.09" y="23.49" width="1.5" height="1.5" fill="#0010e0"/><rect x="673.87" y="20.52" width="1.5" height="1.5" fill="#0010e0"/><rect x="676.65" y="17.55" width="1.5" height="1.5" fill="#0010e0"/>
<rect x="407.60" y="17.10" width="269.80" height="201.50" fill="none" stroke="#262626" stroke-width="1.2"/>
<text x="402.00" y="23.10" font-family="Liberation Sans, sans-serif" font-size="14.5" font-weight="normal" text-anchor="end" fill="#3c3c3c" stroke="#3c3c3c" stroke-width="0.25">1</text>
<text x="402.00" y="73.40" font-family="Liberation Sans, sans-serif" font-size="14.5" font-weight="normal" text-anchor="end" fill="#3c3c3c" stroke="#3c3c3c" stroke-width="0.25">0.95</text>
<text x="402.00" y="123.80" font-family="Liberation Sans, sans-serif" font-size="14.5" font-weight="normal" text-anchor="end" fill="#3c3c3c" stroke="#3c3c3c" stroke-width="0.25">0.9</text>
<text x="402.00" y="174.10" font-family="Liberation Sans, sans-serif" font-size="14.5" font-weight="normal" text-anchor="end" fill="#3c3c3c" stroke="#3c3c3c" stroke-width="0.25">0.85</text>
<text x="402.00" y="224.60" font-family="Liberation Sans, sans-serif" font-size="14.5" font-weight="normal" text-anchor="end" fill="#3c3c3c" stroke="#3c3c3c" stroke-width="0.25">0.8</text>
<text transform="translate(370.20,117.70) rotate(-90)" font-family="Liberation Serif, serif" font-size="13.4" text-anchor="middle" fill="#444" stroke="#444" stroke-width="0.2" textLength="99.5" lengthAdjust="spacingAndGlyphs">Output and Target</text>
<g fill="#0f72bb"><rect x="407.70" y="256.84" width="0.91" height="34.36"/><rect x="408.57" y="279.55" width="1.17" height="11.65"/><rect x="409.69" y="291.20" width="1.17" height="2.53"/><rect x="410.82" y="291.20" width="1.17" height="10.92"/><rect x="411.95" y="291.20" width="1.17" height="7.37"/><rect x="413.08" y="291.20" width="1.17" height="3.82"/><rect x="414.21" y="291.20" width="1.17" height="1.40"/><rect x="415.33" y="290.37" width="1.17" height="0.83"/><rect x="416.46" y="288.65" width="1.17" height="2.55"/><rect x="417.59" y="286.99" width="1.17" height="4.21"/><rect x="418.72" y="285.32" width="1.17" height="5.88"/><rect x="419.84" y="286.30" width="1.17" height="4.90"/><rect x="420.97" y="287.94" width="1.17" height="3.26"/><rect x="422.10" y="289.72" width="1.17" height="1.48"/><rect x="423.23" y="291.20" width="1.17" height="1.19"/><rect x="424.36" y="291.20" width="1.17" height="3.86"/><rect x="425.48" y="291.20" width="1.17" height="6.36"/><rect x="426.61" y="291.20" width="1.17" height="4.82"/><rect x="427.74" y="291.20" width="1.17" height="3.29"/><rect x="428.87" y="291.20" width="1.17" height="1.75"/><rect x="430.00" y="290.43" width="1.17" height="0.77"/><rect x="431.12" y="287.83" width="1.17" height="3.37"/><rect x="432.25" y="285.12" width="1.17" height="6.08"/><rect x="433.38" y="282.32" width="1.17" height="8.88"/><rect x="434.51" y="279.52" width="1.17" height="11.68"/><rect x="435.63" y="278.57" width="1.17" height="12.63"/><rect x="436.76" y="279.97" width="1.17" height="11.23"/><rect x="437.89" y="281.37" width="1.17" height="9.83"/><rect x="439.02" y="283.15" width="1.17" height="8.05"/><rect x="440.15" y="285.69" width="1.17" height="5.51"/><rect x="441.27" y="288.22" width="1.17" height="2.98"/><rect x="442.40" y="291.02" width="1.17" height="0.18"/><rect x="443.53" y="291.20" width="1.17" height="3.49"/><rect x="444.66" y="291.20" width="1.17" height="7.16"/><rect x="445.79" y="291.20" width="1.17" height="10.53"/><rect x="446.91" y="291.20" width="1.17" height="11.93"/><rect x="448.04" y="291.20" width="1.17" height="13.33"/><rect x="449.17" y="291.20" width="1.17" height="14.67"/><rect x="450.30" y="291.20" width="1.17" height="13.53"/><rect x="451.42" y="291.20" width="1.17" height="12.40"/><rect x="452.55" y="291.20" width="1.17" height="11.27"/><rect x="453.68" y="291.20" width="1.17" height="8.92"/><rect x="454.81" y="291.20" width="1.17" height="6.48"/><rect x="455.94" y="291.20" width="1.17" height="4.04"/><rect x="457.06" y="291.20" width="1.17" height="1.60"/><rect x="458.19" y="290.24" width="1.17" height="0.96"/><rect x="459.32" y="287.69" width="1.17" height="3.51"/><rect x="460.45" y="285.13" width="1.17" height="6.07"/><rect x="461.57" y="282.64" width="1.17" height="8.56"/><rect x="462.70" y="280.30" width="1.17" height="10.90"/><rect x="463.83" y="277.97" width="1.17" height="13.23"/><rect x="464.96" y="277.24" width="1.17" height="13.96"/><rect x="466.09" y="276.52" width="1.17" height="14.68"/><rect x="467.21" y="276.79" width="1.17" height="14.41"/><rect x="468.34" y="277.51" width="1.17" height="13.69"/><rect x="469.47" y="278.65" width="1.17" height="12.55"/><rect x="470.60" y="280.46" width="1.17" height="10.74"/><rect x="471.73" y="282.28" width="1.17" height="8.92"/><rect x="472.85" y="285.76" width="1.17" height="5.44"/><rect x="473.98" y="289.26" width="1.17" height="1.94"/><rect x="475.11" y="291.20" width="1.17" height="1.20"/><rect x="476.24" y="291.20" width="1.17" height="4.16"/><rect x="477.36" y="291.20" width="1.17" height="6.75"/><rect x="478.49" y="291.20" width="1.17" height="8.72"/><rect x="479.62" y="291.20" width="1.17" height="10.63"/><rect x="480.75" y="291.20" width="1.17" height="11.69"/><rect x="481.88" y="291.20" width="1.17" height="12.47"/><rect x="483.00" y="291.20" width="1.17" height="11.17"/><rect x="484.13" y="291.20" width="1.17" height="9.88"/><rect x="485.26" y="291.20" width="1.17" height="7.63"/><rect x="486.39" y="291.20" width="1.17" height="5.02"/><rect x="487.52" y="291.20" width="1.17" height="1.77"/><rect x="488.64" y="288.90" width="1.17" height="2.30"/><rect x="489.77" y="284.97" width="1.17" height="6.23"/><rect x="490.90" y="280.81" width="1.17" height="10.39"/><rect x="492.03" y="276.14" width="1.17" height="15.06"/><rect x="493.15" y="272.89" width="1.17" height="18.31"/><rect x="494.28" y="272.06" width="1.17" height="19.14"/><rect x="495.41" y="273.50" width="1.17" height="17.70"/><rect x="496.54" y="275.31" width="1.17" height="15.89"/><rect x="497.67" y="279.72" width="1.17" height="11.48"/><rect x="498.79" y="285.02" width="1.17" height="6.18"/><rect x="499.92" y="291.20" width="1.17" height="0.47"/><rect x="501.05" y="291.20" width="1.17" height="8.64"/><rect x="502.18" y="291.20" width="1.17" height="17.59"/><rect x="503.30" y="291.20" width="1.17" height="17.24"/><rect x="504.43" y="291.20" width="1.17" height="14.44"/><rect x="505.56" y="291.20" width="1.17" height="12.65"/><rect x="506.69" y="291.20" width="1.17" height="0.69"/><rect x="507.82" y="279.71" width="1.17" height="11.49"/><rect x="508.94" y="270.25" width="1.17" height="20.95"/><rect x="510.07" y="259.40" width="1.17" height="31.80"/><rect x="511.20" y="272.32" width="1.17" height="18.88"/><rect x="512.33" y="291.20" width="1.17" height="1.87"/><rect x="513.46" y="291.20" width="1.17" height="29.53"/><rect x="514.58" y="291.20" width="1.17" height="63.99"/><rect x="515.71" y="291.20" width="1.17" height="78.78"/><rect x="516.84" y="245.66" width="0.91" height="45.54"/></g>
<line x1="407.70" y1="291.20" x2="517.70" y2="291.20" stroke="#1f5f90" stroke-width="1.2" />
<rect x="406.65" y="255.49" width="2.7" height="2.7" fill="#0000ff"/><rect x="407.78" y="278.20" width="2.7" height="2.7" fill="#0000ff"/><rect x="408.91" y="292.38" width="2.7" height="2.7" fill="#0000ff"/><rect x="410.03" y="300.77" width="2.7" height="2.7" fill="#0000ff"/><rect x="411.16" y="297.22" width="2.7" height="2.7" fill="#0000ff"/><rect x="412.29" y="293.67" width="2.7" height="2.7" fill="#20d0d0"/><rect x="413.42" y="291.25" width="2.7" height="2.7" fill="#0000ff"/><rect x="414.54" y="289.02" width="2.7" height="2.7" fill="#0000ff"/><rect x="415.67" y="287.30" width="2.7" height="2.7" fill="#0000ff"/><rect x="416.80" y="285.64" width="2.7" height="2.7" fill="#0000ff"/><rect x="417.93" y="283.97" width="2.7" height="2.7" fill="#0000ff"/><rect x="419.06" y="284.95" width="2.7" height="2.7" fill="#20d0d0"/><rect x="420.18" y="286.59" width="2.7" height="2.7" fill="#20d0d0"/><rect x="421.31" y="288.37" width="2.7" height="2.7" fill="#0000ff"/><rect x="422.44" y="291.04" width="2.7" height="2.7" fill="#0000ff"/><rect x="423.57" y="293.71" width="2.7" height="2.7" fill="#20d0d0"/><rect x="424.70" y="296.21" width="2.7" height="2.7" fill="#0000ff"/><rect x="425.82" y="294.67" width="2.7" height="2.7" fill="#0000ff"/><rect x="426.95" y="293.14" width="2.7" height="2.7" fill="#0000ff"/><rect x="428.08" y="291.60" width="2.7" height="2.7" fill="#0000ff"/><rect x="429.21" y="289.08" width="2.7" height="2.7" fill="#0000ff"/><rect x="430.33" y="286.48" width="2.7" height="2.7" fill="#20d0d0"/><rect x="431.46" y="283.77" width="2.7" height="2.7" fill="#0000ff"/><rect x="432.59" y="280.97" width="2.7" height="2.7" fill="#0000ff"/><rect x="433.72" y="278.17" width="2.7" height="2.7" fill="#0000ff"/><rect x="434.85" y="277.22" width="2.7" height="2.7" fill="#0000ff"/><rect x="435.97" y="278.62" width="2.7" height="2.7" fill="#0000ff"/><rect x="437.10" y="280.02" width="2.7" height="2.7" fill="#0000ff"/><rect x="438.23" y="281.80" width="2.7" height="2.7" fill="#0000ff"/><rect x="439.36" y="284.34" width="2.7" height="2.7" fill="#0000ff"/><rect x="440.49" y="286.87" width="2.7" height="2.7" fill="#0000ff"/><rect x="441.61" y="289.67" width="2.7" height="2.7" fill="#0000ff"/><rect x="442.74" y="293.34" width="2.7" height="2.7" fill="#20d0d0"/><rect x="443.87" y="297.01" width="2.7" height="2.7" fill="#0000ff"/><rect x="445.00" y="300.38" width="2.7" height="2.7" fill="#0000ff"/><rect x="446.12" y="301.78" width="2.7" height="2.7" fill="#0000ff"/><rect x="447.25" y="303.18" width="2.7" height="2.7" fill="#0000ff"/><rect x="448.38" y="304.52" width="2.7" height="2.7" fill="#0000ff"/><rect x="449.51" y="303.38" width="2.7" height="2.7" fill="#20d0d0"/><rect x="450.64" y="302.25" width="2.7" height="2.7" fill="#0000ff"/><rect x="451.76" y="301.12" width="2.7" height="2.7" fill="#0000ff"/><rect x="452.89" y="298.77" width="2.7" height="2.7" fill="#0000ff"/><rect x="454.02" y="296.33" width="2.7" height="2.7" fill="#0000ff"/><rect x="455.15" y="293.89" width="2.7" height="2.7" fill="#0000ff"/><rect x="456.27" y="291.45" width="2.7" height="2.7" fill="#0000ff"/><rect x="457.40" y="288.89" width="2.7" height="2.7" fill="#0000ff"/><rect x="458.53" y="286.34" width="2.7" height="2.7" fill="#0000ff"/><rect x="459.66" y="283.78" width="2.7" height="2.7" fill="#0000ff"/><rect x="460.79" y="281.29" width="2.7" height="2.7" fill="#0000ff"/><rect x="461.91" y="278.95" width="2.7" height="2.7" fill="#20d0d0"/><rect x="463.04" y="276.62" width="2.7" height="2.7" fill="#0000ff"/><rect x="464.17" y="275.89" width="2.7" height="2.7" fill="#0000ff"/><rect x="465.30" y="275.17" width="2.7" height="2.7" fill="#0000ff"/><rect x="466.43" y="275.44" width="2.7" height="2.7" fill="#0000ff"/><rect x="467.55" y="276.16" width="2.7" height="2.7" fill="#20d0d0"/><rect x="468.68" y="277.30" width="2.7" height="2.7" fill="#0000ff"/><rect x="469.81" y="279.11" width="2.7" height="2.7" fill="#0000ff"/><rect x="470.94" y="280.93" width="2.7" height="2.7" fill="#0000ff"/><rect x="472.06" y="284.41" width="2.7" height="2.7" fill="#0000ff"/><rect x="473.19" y="287.91" width="2.7" height="2.7" fill="#0000ff"/><rect x="474.32" y="291.05" width="2.7" height="2.7" fill="#20d0d0"/><rect x="475.45" y="294.01" width="2.7" height="2.7" fill="#0000ff"/><rect x="476.58" y="296.60" width="2.7" height="2.7" fill="#0000ff"/><rect x="477.70" y="298.57" width="2.7" height="2.7" fill="#0000ff"/><rect x="478.83" y="300.48" width="2.7" height="2.7" fill="#0000ff"/><rect x="479.96" y="301.54" width="2.7" height="2.7" fill="#0000ff"/><rect x="481.09" y="302.32" width="2.7" height="2.7" fill="#0000ff"/><rect x="482.21" y="301.02" width="2.7" height="2.7" fill="#0000ff"/><rect x="483.34" y="299.73" width="2.7" height="2.7" fill="#0000ff"/><rect x="484.47" y="297.48" width="2.7" height="2.7" fill="#20d0d0"/><rect x="485.60" y="294.87" width="2.7" height="2.7" fill="#0000ff"/><rect x="486.73" y="291.62" width="2.7" height="2.7" fill="#0000ff"/><rect x="487.85" y="287.55" width="2.7" height="2.7" fill="#0000ff"/><rect x="488.98" y="283.62" width="2.7" height="2.7" fill="#0000ff"/><rect x="490.11" y="279.46" width="2.7" height="2.7" fill="#0000ff"/><rect x="491.24" y="274.79" width="2.7" height="2.7" fill="#0000ff"/><rect x="492.37" y="271.54" width="2.7" height="2.7" fill="#20d0d0"/><rect x="493.49" y="270.71" width="2.7" height="2.7" fill="#0000ff"/><rect x="494.62" y="272.15" width="2.7" height="2.7" fill="#0000ff"/><rect x="495.75" y="273.96" width="2.7" height="2.7" fill="#0000ff"/><rect x="496.88" y="278.37" width="2.7" height="2.7" fill="#0000ff"/><rect x="498.00" y="283.67" width="2.7" height="2.7" fill="#0000ff"/><rect x="499.13" y="290.32" width="2.7" height="2.7" fill="#0000ff"/><rect x="500.26" y="298.49" width="2.7" height="2.7" fill="#0000ff"/><rect x="501.39" y="307.44" width="2.7" height="2.7" fill="#20d0d0"/><rect x="502.52" y="307.09" width="2.7" height="2.7" fill="#0000ff"/><rect x="503.64" y="304.29" width="2.7" height="2.7" fill="#0000ff"/><rect x="504.77" y="302.50" width="2.7" height="2.7" fill="#0000ff"/><rect x="505.90" y="290.54" width="2.7" height="2.7" fill="#0000ff"/><rect x="507.03" y="278.36" width="2.7" height="2.7" fill="#0000ff"/><rect x="508.16" y="268.90" width="2.7" height="2.7" fill="#0000ff"/><rect x="509.28" y="258.05" width="2.7" height="2.7" fill="#0000ff"/><rect x="510.41" y="270.97" width="2.7" height="2.7" fill="#0000ff"/><rect x="511.54" y="291.72" width="2.7" height="2.7" fill="#0000ff"/><rect x="512.67" y="319.38" width="2.7" height="2.7" fill="#20d0d0"/><rect x="513.79" y="353.84" width="2.7" height="2.7" fill="#0000ff"/><rect x="514.92" y="368.63" width="2.7" height="2.7" fill="#0000ff"/><rect x="516.05" y="244.31" width="2.7" height="2.7" fill="#0000ff"/>
<rect x="407.70" y="244.80" width="110.00" height="130.20" fill="none" stroke="#262626" stroke-width="1.2"/>
<rect x="406.00" y="256.84" width="1.60" height="34.36" fill="#1a7cc4"/>
<rect x="405.50" y="255.54" width="2.6" height="2.6" fill="#0000ff"/>
<rect x="517.60" y="244.80" width="1.40" height="46.40" fill="#1a7cc4"/>
<rect x="517.00" y="242.29" width="2.6" height="2.6" fill="#0000ff"/>
<text x="405.20" y="255.10" font-family="Liberation Sans, sans-serif" font-size="12.0" font-weight="normal" text-anchor="end" fill="#3c3c3c" stroke="#3c3c3c" stroke-width="0.25">2</text>
<text x="405.20" y="296.50" font-family="Liberation Sans, sans-serif" font-size="12.0" font-weight="normal" text-anchor="end" fill="#3c3c3c" stroke="#3c3c3c" stroke-width="0.25">0</text>
<text x="405.20" y="337.90" font-family="Liberation Sans, sans-serif" font-size="12.0" font-weight="normal" text-anchor="end" fill="#3c3c3c" stroke="#3c3c3c" stroke-width="0.25">-2</text>
<text x="405.20" y="379.30" font-family="Liberation Sans, sans-serif" font-size="12.0" font-weight="normal" text-anchor="end" fill="#3c3c3c" stroke="#3c3c3c" stroke-width="0.25">-4</text>
<text x="428.30" y="390.70" font-family="Liberation Sans, sans-serif" font-size="12.0" font-weight="normal" text-anchor="middle" fill="#3c3c3c" stroke="#3c3c3c" stroke-width="0.25">20</text>
<text x="451.30" y="390.70" font-family="Liberation Sans, sans-serif" font-size="12.0" font-weight="normal" text-anchor="middle" fill="#3c3c3c" stroke="#3c3c3c" stroke-width="0.25">40</text>
<text x="474.00" y="390.70" font-family="Liberation Sans, sans-serif" font-size="12.0" font-weight="normal" text-anchor="middle" fill="#3c3c3c" stroke="#3c3c3c" stroke-width="0.25">60</text>
<text x="497.30" y="390.70" font-family="Liberation Sans, sans-serif" font-size="12.0" font-weight="normal" text-anchor="middle" fill="#3c3c3c" stroke="#3c3c3c" stroke-width="0.25">80</text>
<line x1="428.30" y1="375.00" x2="428.30" y2="373.00" stroke="#262626" stroke-width="1" />
<line x1="428.30" y1="244.80" x2="428.30" y2="246.80" stroke="#262626" stroke-width="1" />
<line x1="450.90" y1="375.00" x2="450.90" y2="373.00" stroke="#262626" stroke-width="1" />
<line x1="450.90" y1="244.80" x2="450.90" y2="246.80" stroke="#262626" stroke-width="1" />
<line x1="473.90" y1="375.00" x2="473.90" y2="373.00" stroke="#262626" stroke-width="1" />
<line x1="473.90" y1="244.80" x2="473.90" y2="246.80" stroke="#262626" stroke-width="1" />
<line x1="496.70" y1="375.00" x2="496.70" y2="373.00" stroke="#262626" stroke-width="1" />
<line x1="496.70" y1="244.80" x2="496.70" y2="246.80" stroke="#262626" stroke-width="1" />
<text x="462.70" y="408.10" font-family="Liberation Serif, serif" font-size="13.4" font-weight="normal" text-anchor="middle" fill="#444" stroke="#444" stroke-width="0.25">Time</text>
<text transform="translate(371.50,311.90) rotate(-90)" font-family="Liberation Serif, serif" font-size="13.4" text-anchor="middle" fill="#2a2a2a" stroke="#2a2a2a" stroke-width="0.3">Error</text>
<text x="407.80" y="240.70" font-family="Liberation Sans, sans-serif" font-size="12.0" font-weight="normal" text-anchor="start" fill="#999" >×</text>
<text x="417.40" y="240.70" font-family="Liberation Sans, sans-serif" font-size="12.2" font-weight="normal" text-anchor="start" fill="#444" >10</text>
<text x="430.60" y="234.50" font-family="Liberation Sans, sans-serif" font-size="9.6" font-weight="normal" text-anchor="start" fill="#444" >-5</text>
<rect x="517.70" y="218.60" width="159.70" height="191.70" fill="#fff" stroke="#262626" stroke-width="1.2"/>
<rect x="543.40" y="231.80" width="2.6" height="2.6" fill="#0000ff"/>
<text x="570.70" y="238.40" font-family="Liberation Sans, sans-serif" font-size="12.8" font-weight="normal" text-anchor="start" fill="#161616" stroke="#161616" stroke-width="0.25">Training Targets</text>
<path d="M540.10 256.60H549.30M544.70 252.00V261.20" stroke="#2a3a98" stroke-width="1.6" fill="none"/>
<text x="570.70" y="261.90" font-family="Liberation Sans, sans-serif" font-size="12.8" font-weight="normal" text-anchor="start" fill="#161616" stroke="#161616" stroke-width="0.25">Training Outputs</text>
<rect x="543.40" y="278.80" width="2.6" height="2.6" fill="#00c000"/>
<text x="570.70" y="285.40" font-family="Liberation Sans, sans-serif" font-size="12.8" font-weight="normal" text-anchor="start" fill="#161616" stroke="#161616" stroke-width="0.25">Validation Targets</text>
<path d="M540.10 303.50H549.30M544.70 298.90V308.10" stroke="#28c8c8" stroke-width="1.6" fill="none"/>
<text x="570.70" y="308.80" font-family="Liberation Sans, sans-serif" font-size="12.8" font-weight="normal" text-anchor="start" fill="#161616" stroke="#161616" stroke-width="0.25">Validation Outputs</text>
<rect x="543.40" y="325.70" width="2.6" height="2.6" fill="#ff0000"/>
<text x="570.70" y="332.30" font-family="Liberation Sans, sans-serif" font-size="12.8" font-weight="normal" text-anchor="start" fill="#161616" stroke="#161616" stroke-width="0.25">Test Targets</text>
<path d="M540.10 350.60H549.30M544.70 346.00V355.20" stroke="#2a70c0" stroke-width="1.6" fill="none"/>
<text x="570.70" y="355.90" font-family="Liberation Sans, sans-serif" font-size="12.8" font-weight="normal" text-anchor="start" fill="#161616" stroke="#161616" stroke-width="0.25">Test Outputs</text>
<line x1="522.60" y1="374.00" x2="566.80" y2="374.00" stroke="#ff9400" stroke-width="2.8" />
<text x="570.70" y="379.30" font-family="Liberation Sans, sans-serif" font-size="12.8" font-weight="normal" text-anchor="start" fill="#161616" stroke="#161616" stroke-width="0.25">Errors</text>
<line x1="522.80" y1="397.60" x2="566.60" y2="397.60" stroke="#262626" stroke-width="1.3" />
<text x="570.70" y="402.90" font-family="Liberation Sans, sans-serif" font-size="12.8" font-weight="normal" text-anchor="start" fill="#161616" stroke="#161616" stroke-width="0.25">Response</text>
<rect x="401.30" y="411.00" width="276.10" height="18.60" fill="#fff" stroke="#262626" stroke-width="1.2"/>
<rect x="490.10" y="419.00" width="2.6" height="2.6" fill="#0000ff"/>
<text x="518.40" y="425.30" font-family="Liberation Sans, sans-serif" font-size="12.8" font-weight="normal" text-anchor="start" fill="#262626" stroke="#161616" stroke-width="0.25" textLength="92" lengthAdjust="spacingAndGlyphs">Targets - Outputs</text>
<text x="542.60" y="506.50" font-family="Liberation Serif, serif" font-size="13.25" font-weight="bold" text-anchor="middle" fill="#000"  textLength="276.6" lengthAdjust="spacingAndGlyphs">Response of Output Element 1 for Time-Series 1</text>
<line x1="459.80" y1="715.60" x2="459.80" y2="713.10" stroke="#262626" stroke-width="1" />
<line x1="459.80" y1="513.80" x2="459.80" y2="516.30" stroke="#262626" stroke-width="1" />
<line x1="515.10" y1="715.60" x2="515.10" y2="713.10" stroke="#262626" stroke-width="1" />
<line x1="515.10" y1="513.80" x2="515.10" y2="516.30" stroke="#262626" stroke-width="1" />
<line x1="570.50" y1="715.60" x2="570.50" y2="713.10" stroke="#262626" stroke-width="1" />
<line x1="570.50" y1="513.80" x2="570.50" y2="516.30" stroke="#262626" stroke-width="1" />
<line x1="625.50" y1="715.60" x2="625.50" y2="713.10" stroke="#262626" stroke-width="1" />
<line x1="625.50" y1="513.80" x2="625.50" y2="516.30" stroke="#262626" stroke-width="1" />
<line x1="407.50" y1="665.15" x2="410.00" y2="665.15" stroke="#262626" stroke-width="1" />
<line x1="677.50" y1="665.15" x2="675.00" y2="665.15" stroke="#262626" stroke-width="1" />
<line x1="407.50" y1="614.70" x2="410.00" y2="614.70" stroke="#262626" stroke-width="1" />
<line x1="677.50" y1="614.70" x2="675.00" y2="614.70" stroke="#262626" stroke-width="1" />
<line x1="407.50" y1="564.25" x2="410.00" y2="564.25" stroke="#262626" stroke-width="1" />
<line x1="677.50" y1="564.25" x2="675.00" y2="564.25" stroke="#262626" stroke-width="1" />
<polyline points="407.50,715.30 410.28,715.08 413.07,714.85 415.85,714.63 418.63,714.41 421.42,713.96 424.20,713.29 426.98,712.62 429.77,711.96 432.55,711.29 435.34,710.62 438.12,709.95 440.90,709.27 443.69,708.54 446.47,707.82 449.25,707.09 452.04,706.37 454.82,705.65 457.60,705.02 460.39,704.39 463.17,703.76 465.95,703.13 468.74,702.50 471.52,701.49 474.30,700.41 477.09,699.32 479.87,698.23 482.65,697.15 485.44,696.02 488.22,694.85 491.01,693.69 493.79,692.53 496.57,691.36 499.36,690.04 502.14,688.42 504.92,686.80 507.71,685.18 510.49,683.56 513.27,681.92 516.06,680.09 518.84,678.26 521.62,676.43 524.41,674.60 527.19,672.77 529.97,670.56 532.76,668.29 535.54,666.02 538.32,663.75 541.11,661.48 543.89,659.28 546.68,657.09 549.46,654.90 552.24,652.71 555.03,650.65 557.81,648.68 560.59,646.72 563.38,644.75 566.16,642.61 568.94,640.23 571.73,637.85 574.51,635.47 577.29,633.04 580.08,630.42 582.86,627.81 585.64,625.19 588.43,622.57 591.21,619.64 593.99,616.72 596.78,613.79 599.56,610.87 602.35,607.84 605.13,604.79 607.91,601.75 610.70,598.70 613.48,595.82 616.26,593.04 619.05,590.25 621.83,587.47 624.61,584.50 627.40,581.28 630.18,578.07 632.96,574.85 635.75,571.49 638.53,567.73 641.31,563.97 644.10,560.21 646.88,556.43 649.66,552.27 652.45,548.10 655.23,543.94 658.02,539.78 660.80,535.84 663.58,531.94 666.37,528.03 669.15,524.13 671.93,520.69 674.72,517.50 677.50,514.30" fill="none" stroke="#000" stroke-width="0.8"/>
<path d="M403.00 715.30H412.00M407.50 710.80V719.80" stroke="#18238c" stroke-width="1.2" fill="none"/><path d="M405.78 715.08H414.78M410.28 710.58V719.58" stroke="#18238c" stroke-width="1.2" fill="none"/><path d="M408.57 714.85H417.57M413.07 710.35V719.35" stroke="#18238c" stroke-width="1.2" fill="none"/><path d="M411.35 714.63H420.35M415.85 710.13V719.13" stroke="#18238c" stroke-width="1.2" fill="none"/><path d="M414.13 714.41H423.13M418.63 709.91V718.91" stroke="#2a72c0" stroke-width="1.2" fill="none"/><path d="M416.92 713.96H425.92M421.42 709.46V718.46" stroke="#2ac8c8" stroke-width="1.2" fill="none"/><path d="M419.70 713.29H428.70M424.20 708.79V717.79" stroke="#18238c" stroke-width="1.2" fill="none"/><path d="M422.48 712.62H431.48M426.98 708.12V717.12" stroke="#2a72c0" stroke-width="1.2" fill="none"/><path d="M425.27 711.96H434.27M429.77 707.46V716.46" stroke="#18238c" stroke-width="1.2" fill="none"/><path d="M428.05 711.29H437.05M432.55 706.79V715.79" stroke="#2a72c0" stroke-width="1.2" fill="none"/><path d="M430.84 710.62H439.84M435.34 706.12V715.12" stroke="#18238c" stroke-width="1.2" fill="none"/><path d="M433.62 709.95H442.62M438.12 705.45V714.45" stroke="#2ac8c8" stroke-width="1.2" fill="none"/><path d="M436.40 709.27H445.40M440.90 704.77V713.77" stroke="#2ac8c8" stroke-width="1.2" fill="none"/><path d="M439.19 708.54H448.19M443.69 704.04V713.04" stroke="#18238c" stroke-width="1.2" fill="none"/><path d="M441.97 707.82H450.97M446.47 703.32V712.32" stroke="#18238c" stroke-width="1.2" fill="none"/><path d="M444.75 707.09H453.75M449.25 702.59V711.59" stroke="#2ac8c8" stroke-width="1.2" fill="none"/><path d="M447.54 706.37H456.54M452.04 701.87V710.87" stroke="#18238c" stroke-width="1.2" fill="none"/><path d="M450.32 705.65H459.32M454.82 701.15V710.15" stroke="#18238c" stroke-width="1.2" fill="none"/><path d="M453.10 705.02H462.10M457.60 700.52V709.52" stroke="#2a72c0" stroke-width="1.2" fill="none"/><path d="M455.89 704.39H464.89M460.39 699.89V708.89" stroke="#18238c" stroke-width="1.2" fill="none"/><path d="M458.67 703.76H467.67M463.17 699.26V708.26" stroke="#18238c" stroke-width="1.2" fill="none"/><path d="M461.45 703.13H470.45M465.95 698.63V707.63" stroke="#2ac8c8" stroke-width="1.2" fill="none"/><path d="M464.24 702.50H473.24M468.74 698.00V707.00" stroke="#18238c" stroke-width="1.2" fill="none"/><path d="M467.02 701.49H476.02M471.52 696.99V705.99" stroke="#18238c" stroke-width="1.2" fill="none"/><path d="M469.80 700.41H478.80M474.30 695.91V704.91" stroke="#18238c" stroke-width="1.2" fill="none"/><path d="M472.59 699.32H481.59M477.09 694.82V703.82" stroke="#18238c" stroke-width="1.2" fill="none"/><path d="M475.37 698.23H484.37M479.87 693.73V702.73" stroke="#18238c" stroke-width="1.2" fill="none"/><path d="M478.15 697.15H487.15M482.65 692.65V701.65" stroke="#18238c" stroke-width="1.2" fill="none"/><path d="M480.94 696.02H489.94M485.44 691.52V700.52" stroke="#18238c" stroke-width="1.2" fill="none"/><path d="M483.72 694.85H492.72M488.22 690.35V699.35" stroke="#18238c" stroke-width="1.2" fill="none"/><path d="M486.51 693.69H495.51M491.01 689.19V698.19" stroke="#18238c" stroke-width="1.2" fill="none"/><path d="M489.29 692.53H498.29M493.79 688.03V697.03" stroke="#18238c" stroke-width="1.2" fill="none"/><path d="M492.07 691.36H501.07M496.57 686.86V695.86" stroke="#2ac8c8" stroke-width="1.2" fill="none"/><path d="M494.86 690.04H503.86M499.36 685.54V694.54" stroke="#18238c" stroke-width="1.2" fill="none"/><path d="M497.64 688.42H506.64M502.14 683.92V692.92" stroke="#18238c" stroke-width="1.2" fill="none"/><path d="M500.42 686.80H509.42M504.92 682.30V691.30" stroke="#18238c" stroke-width="1.2" fill="none"/><path d="M503.21 685.18H512.21M507.71 680.68V689.68" stroke="#18238c" stroke-width="1.2" fill="none"/><path d="M505.99 683.56H514.99M510.49 679.06V688.06" stroke="#2a72c0" stroke-width="1.2" fill="none"/><path d="M508.77 681.92H517.77M513.27 677.42V686.42" stroke="#2ac8c8" stroke-width="1.2" fill="none"/><path d="M511.56 680.09H520.56M516.06 675.59V684.59" stroke="#18238c" stroke-width="1.2" fill="none"/><path d="M514.34 678.26H523.34M518.84 673.76V682.76" stroke="#18238c" stroke-width="1.2" fill="none"/><path d="M517.12 676.43H526.12M521.62 671.93V680.93" stroke="#18238c" stroke-width="1.2" fill="none"/><path d="M519.91 674.60H528.91M524.41 670.10V679.10" stroke="#2a72c0" stroke-width="1.2" fill="none"/><path d="M522.69 672.77H531.69M527.19 668.27V677.27" stroke="#2a72c0" stroke-width="1.2" fill="none"/><path d="M525.47 670.56H534.47M529.97 666.06V675.06" stroke="#18238c" stroke-width="1.2" fill="none"/><path d="M528.26 668.29H537.26M532.76 663.79V672.79" stroke="#18238c" stroke-width="1.2" fill="none"/><path d="M531.04 666.02H540.04M535.54 661.52V670.52" stroke="#18238c" stroke-width="1.2" fill="none"/><path d="M533.82 663.75H542.82M538.32 659.25V668.25" stroke="#18238c" stroke-width="1.2" fill="none"/><path d="M536.61 661.48H545.61M541.11 656.98V665.98" stroke="#2a72c0" stroke-width="1.2" fill="none"/><path d="M539.39 659.28H548.39M543.89 654.78V663.78" stroke="#2ac8c8" stroke-width="1.2" fill="none"/><path d="M542.18 657.09H551.18M546.68 652.59V661.59" stroke="#18238c" stroke-width="1.2" fill="none"/><path d="M544.96 654.90H553.96M549.46 650.40V659.40" stroke="#18238c" stroke-width="1.2" fill="none"/><path d="M547.74 652.71H556.74M552.24 648.21V657.21" stroke="#2a72c0" stroke-width="1.2" fill="none"/><path d="M550.53 650.65H559.53M555.03 646.15V655.15" stroke="#2a72c0" stroke-width="1.2" fill="none"/><path d="M553.31 648.68H562.31M557.81 644.18V653.18" stroke="#2ac8c8" stroke-width="1.2" fill="none"/><path d="M556.09 646.72H565.09M560.59 642.22V651.22" stroke="#18238c" stroke-width="1.2" fill="none"/><path d="M558.88 644.75H567.88M563.38 640.25V649.25" stroke="#18238c" stroke-width="1.2" fill="none"/><path d="M561.66 642.61H570.66M566.16 638.11V647.11" stroke="#18238c" stroke-width="1.2" fill="none"/><path d="M564.44 640.23H573.44M568.94 635.73V644.73" stroke="#18238c" stroke-width="1.2" fill="none"/><path d="M567.23 637.85H576.23M571.73 633.35V642.35" stroke="#2a72c0" stroke-width="1.2" fill="none"/><path d="M570.01 635.47H579.01M574.51 630.97V639.97" stroke="#2ac8c8" stroke-width="1.2" fill="none"/><path d="M572.79 633.04H581.79M577.29 628.54V637.54" stroke="#18238c" stroke-width="1.2" fill="none"/><path d="M575.58 630.42H584.58M580.08 625.92V634.92" stroke="#18238c" stroke-width="1.2" fill="none"/><path d="M578.36 627.81H587.36M582.86 623.31V632.31" stroke="#18238c" stroke-width="1.2" fill="none"/><path d="M581.14 625.19H590.14M585.64 620.69V629.69" stroke="#18238c" stroke-width="1.2" fill="none"/><path d="M583.93 622.57H592.93M588.43 618.07V627.07" stroke="#2a72c0" stroke-width="1.2" fill="none"/><path d="M586.71 619.64H595.71M591.21 615.14V624.14" stroke="#18238c" stroke-width="1.2" fill="none"/><path d="M589.49 616.72H598.49M593.99 612.22V621.22" stroke="#18238c" stroke-width="1.2" fill="none"/><path d="M592.28 613.79H601.28M596.78 609.29V618.29" stroke="#2a72c0" stroke-width="1.2" fill="none"/><path d="M595.06 610.87H604.06M599.56 606.37V615.37" stroke="#2ac8c8" stroke-width="1.2" fill="none"/><path d="M597.85 607.84H606.85M602.35 603.34V612.34" stroke="#18238c" stroke-width="1.2" fill="none"/><path d="M600.63 604.79H609.63M605.13 600.29V609.29" stroke="#18238c" stroke-width="1.2" fill="none"/><path d="M603.41 601.75H612.41M607.91 597.25V606.25" stroke="#18238c" stroke-width="1.2" fill="none"/><path d="M606.20 598.70H615.20M610.70 594.20V603.20" stroke="#18238c" stroke-width="1.2" fill="none"/><path d="M608.98 595.82H617.98M613.48 591.32V600.32" stroke="#18238c" stroke-width="1.2" fill="none"/><path d="M611.76 593.04H620.76M616.26 588.54V597.54" stroke="#18238c" stroke-width="1.2" fill="none"/><path d="M614.55 590.25H623.55M619.05 585.75V594.75" stroke="#2ac8c8" stroke-width="1.2" fill="none"/><path d="M617.33 587.47H626.33M621.83 582.97V591.97" stroke="#18238c" stroke-width="1.2" fill="none"/><path d="M620.11 584.50H629.11M624.61 580.00V589.00" stroke="#2a72c0" stroke-width="1.2" fill="none"/><path d="M622.90 581.28H631.90M627.40 576.78V585.78" stroke="#18238c" stroke-width="1.2" fill="none"/><path d="M625.68 578.07H634.68M630.18 573.57V582.57" stroke="#18238c" stroke-width="1.2" fill="none"/><path d="M628.46 574.85H637.46M632.96 570.35V579.35" stroke="#18238c" stroke-width="1.2" fill="none"/><path d="M631.25 571.49H640.25M635.75 566.99V575.99" stroke="#18238c" stroke-width="1.2" fill="none"/><path d="M634.03 567.73H643.03M638.53 563.23V572.23" stroke="#18238c" stroke-width="1.2" fill="none"/><path d="M636.81 563.97H645.81M641.31 559.47V568.47" stroke="#2ac8c8" stroke-width="1.2" fill="none"/><path d="M639.60 560.21H648.60M644.10 555.71V564.71" stroke="#18238c" stroke-width="1.2" fill="none"/><path d="M642.38 556.43H651.38M646.88 551.93V560.93" stroke="#18238c" stroke-width="1.2" fill="none"/><path d="M645.16 552.27H654.16M649.66 547.77V556.77" stroke="#18238c" stroke-width="1.2" fill="none"/><path d="M647.95 548.10H656.95M652.45 543.60V552.60" stroke="#18238c" stroke-width="1.2" fill="none"/><path d="M650.73 543.94H659.73M655.23 539.44V548.44" stroke="#18238c" stroke-width="1.2" fill="none"/><path d="M653.52 539.78H662.52M658.02 535.28V544.28" stroke="#18238c" stroke-width="1.2" fill="none"/><path d="M656.30 535.84H665.30M660.80 531.34V540.34" stroke="#18238c" stroke-width="1.2" fill="none"/><path d="M659.08 531.94H668.08M663.58 527.44V536.44" stroke="#18238c" stroke-width="1.2" fill="none"/><path d="M661.87 528.03H670.87M666.37 523.53V532.53" stroke="#2a72c0" stroke-width="1.2" fill="none"/><path d="M664.65 524.13H673.65M669.15 519.63V528.63" stroke="#2ac8c8" stroke-width="1.2" fill="none"/><path d="M667.43 520.69H676.43M671.93 516.19V525.19" stroke="#18238c" stroke-width="1.2" fill="none"/><path d="M670.22 517.50H679.22M674.72 513.00V522.00" stroke="#18238c" stroke-width="1.2" fill="none"/><path d="M673.00 514.30H682.00M677.50 509.80V518.80" stroke="#18238c" stroke-width="1.2" fill="none"/>
<rect x="406.75" y="714.55" width="1.5" height="1.5" fill="#0010e0"/><rect x="409.53" y="714.33" width="1.5" height="1.5" fill="#0010e0"/><rect x="412.32" y="714.10" width="1.5" height="1.5" fill="#0010e0"/><rect x="415.10" y="713.88" width="1.5" height="1.5" fill="#0010e0"/><rect x="417.88" y="713.66" width="1.5" height="1.5" fill="#e01010"/><rect x="420.67" y="713.21" width="1.5" height="1.5" fill="#10b010"/><rect x="423.45" y="712.54" width="1.5" height="1.5" fill="#0010e0"/><rect x="426.23" y="711.87" width="1.5" height="1.5" fill="#e01010"/><rect x="429.02" y="711.21" width="1.5" height="1.5" fill="#0010e0"/><rect x="431.80" y="710.54" width="1.5" height="1.5" fill="#e01010"/><rect x="434.59" y="709.87" width="1.5" height="1.5" fill="#0010e0"/><rect x="437.37" y="709.20" width="1.5" height="1.5" fill="#10b010"/><rect x="440.15" y="708.52" width="1.5" height="1.5" fill="#10b010"/><rect x="442.94" y="707.79" width="1.5" height="1.5" fill="#0010e0"/><rect x="445.72" y="707.07" width="1.5" height="1.5" fill="#0010e0"/><rect x="448.50" y="706.34" width="1.5" height="1.5" fill="#10b010"/><rect x="451.29" y="705.62" width="1.5" height="1.5" fill="#0010e0"/><rect x="454.07" y="704.90" width="1.5" height="1.5" fill="#0010e0"/><rect x="456.85" y="704.27" width="1.5" height="1.5" fill="#e01010"/><rect x="459.64" y="703.64" width="1.5" height="1.5" fill="#0010e0"/><rect x="462.42" y="703.01" width="1.5" height="1.5" fill="#0010e0"/><rect x="465.20" y="702.38" width="1.5" height="1.5" fill="#10b010"/><rect x="467.99" y="701.75" width="1.5" height="1.5" fill="#0010e0"/><rect x="470.77" y="700.74" width="1.5" height="1.5" fill="#0010e0"/><rect x="473.55" y="699.66" width="1.5" height="1.5" fill="#0010e0"/><rect x="476.34" y="698.57" width="1.5" height="1.5" fill="#0010e0"/><rect x="479.12" y="697.48" width="1.5" height="1.5" fill="#0010e0"/><rect x="481.90" y="696.40" width="1.5" height="1.5" fill="#0010e0"/><rect x="484.69" y="695.27" width="1.5" height="1.5" fill="#0010e0"/><rect x="487.47" y="694.10" width="1.5" height="1.5" fill="#0010e0"/><rect x="490.26" y="692.94" width="1.5" height="1.5" fill="#0010e0"/><rect x="493.04" y="691.78" width="1.5" height="1.5" fill="#0010e0"/><rect x="495.82" y="690.61" width="1.5" height="1.5" fill="#10b010"/><rect x="498.61" y="689.29" width="1.5" height="1.5" fill="#0010e0"/><rect x="501.39" y="687.67" width="1.5" height="1.5" fill="#0010e0"/><rect x="504.17" y="686.05" width="1.5" height="1.5" fill="#0010e0"/><rect x="506.96" y="684.43" width="1.5" height="1.5" fill="#0010e0"/><rect x="509.74" y="682.81" width="1.5" height="1.5" fill="#e01010"/><rect x="512.52" y="681.17" width="1.5" height="1.5" fill="#10b010"/><rect x="515.31" y="679.34" width="1.5" height="1.5" fill="#0010e0"/><rect x="518.09" y="677.51" width="1.5" height="1.5" fill="#0010e0"/><rect x="520.87" y="675.68" width="1.5" height="1.5" fill="#0010e0"/><rect x="523.66" y="673.85" width="1.5" height="1.5" fill="#e01010"/><rect x="526.44" y="672.02" width="1.5" height="1.5" fill="#e01010"/><rect x="529.22" y="669.81" width="1.5" height="1.5" fill="#0010e0"/><rect x="532.01" y="667.54" width="1.5" height="1.5" fill="#0010e0"/><rect x="534.79" y="665.27" width="1.5" height="1.5" fill="#0010e0"/><rect x="537.57" y="663.00" width="1.5" height="1.5" fill="#0010e0"/><rect x="540.36" y="660.73" width="1.5" height="1.5" fill="#e01010"/><rect x="543.14" y="658.53" width="1.5" height="1.5" fill="#10b010"/><rect x="545.93" y="656.34" width="1.5" height="1.5" fill="#0010e0"/><rect x="548.71" y="654.15" width="1.5" height="1.5" fill="#0010e0"/><rect x="551.49" y="651.96" width="1.5" height="1.5" fill="#e01010"/><rect x="554.28" y="649.90" width="1.5" height="1.5" fill="#e01010"/><rect x="557.06" y="647.93" width="1.5" height="1.5" fill="#10b010"/><rect x="559.84" y="645.97" width="1.5" height="1.5" fill="#0010e0"/><rect x="562.63" y="644.00" width="1.5" height="1.5" fill="#0010e0"/><rect x="565.41" y="641.86" width="1.5" height="1.5" fill="#0010e0"/><rect x="568.19" y="639.48" width="1.5" height="1.5" fill="#0010e0"/><rect x="570.98" y="637.10" width="1.5" height="1.5" fill="#e01010"/><rect x="573.76" y="634.72" width="1.5" height="1.5" fill="#10b010"/><rect x="576.54" y="632.29" width="1.5" height="1.5" fill="#0010e0"/><rect x="579.33" y="629.67" width="1.5" height="1.5" fill="#0010e0"/><rect x="582.11" y="627.06" width="1.5" height="1.5" fill="#0010e0"/><rect x="584.89" y="624.44" width="1.5" height="1.5" fill="#0010e0"/><rect x="587.68" y="621.82" width="1.5" height="1.5" fill="#e01010"/><rect x="590.46" y="618.89" width="1.5" height="1.5" fill="#0010e0"/><rect x="593.24" y="615.97" width="1.5" height="1.5" fill="#0010e0"/><rect x="596.03" y="613.04" width="1.5" height="1.5" fill="#e01010"/><rect x="598.81" y="610.12" width="1.5" height="1.5" fill="#10b010"/><rect x="601.60" y="607.09" width="1.5" height="1.5" fill="#0010e0"/><rect x="604.38" y="604.04" width="1.5" height="1.5" fill="#0010e0"/><rect x="607.16" y="601.00" width="1.5" height="1.5" fill="#0010e0"/><rect x="609.95" y="597.95" width="1.5" height="1.5" fill="#0010e0"/><rect x="612.73" y="595.07" width="1.5" height="1.5" fill="#0010e0"/><rect x="615.51" y="592.29" width="1.5" height="1.5" fill="#0010e0"/><rect x="618.30" y="589.50" width="1.5" height="1.5" fill="#10b010"/><rect x="621.08" y="586.72" width="1.5" height="1.5" fill="#0010e0"/><rect x="623.86" y="583.75" width="1.5" height="1.5" fill="#e01010"/><rect x="626.65" y="580.53" width="1.5" height="1.5" fill="#0010e0"/><rect x="629.43" y="577.32" width="1.5" height="1.5" fill="#0010e0"/><rect x="632.21" y="574.10" width="1.5" height="1.5" fill="#0010e0"/><rect x="635.00" y="570.74" width="1.5" height="1.5" fill="#0010e0"/><rect x="637.78" y="566.98" width="1.5" height="1.5" fill="#0010e0"/><rect x="640.56" y="563.22" width="1.5" height="1.5" fill="#10b010"/><rect x="643.35" y="559.46" width="1.5" height="1.5" fill="#0010e0"/><rect x="646.13" y="555.68" width="1.5" height="1.5" fill="#0010e0"/><rect x="648.91" y="551.52" width="1.5" height="1.5" fill="#0010e0"/><rect x="651.70" y="547.35" width="1.5" height="1.5" fill="#0010e0"/><rect x="654.48" y="543.19" width="1.5" height="1.5" fill="#0010e0"/><rect x="657.27" y="539.03" width="1.5" height="1.5" fill="#0010e0"/><rect x="660.05" y="535.09" width="1.5" height="1.5" fill="#0010e0"/><rect x="662.83" y="531.19" width="1.5" height="1.5" fill="#0010e0"/><rect x="665.62" y="527.28" width="1.5" height="1.5" fill="#e01010"/><rect x="668.40" y="523.38" width="1.5" height="1.5" fill="#10b010"/><rect x="671.18" y="519.94" width="1.5" height="1.5" fill="#0010e0"/><rect x="673.97" y="516.75" width="1.5" height="1.5" fill="#0010e0"/><rect x="676.75" y="513.55" width="1.5" height="1.5" fill="#0010e0"/>
<rect x="407.50" y="513.80" width="270.00" height="201.80" fill="none" stroke="#262626" stroke-width="1.2"/>
<text x="402.00" y="519.80" font-family="Liberation Sans, sans-serif" font-size="14.5" font-weight="normal" text-anchor="end" fill="#3c3c3c" stroke="#3c3c3c" stroke-width="0.25">1</text>
<text x="402.00" y="570.50" font-family="Liberation Sans, sans-serif" font-size="14.5" font-weight="normal" text-anchor="end" fill="#3c3c3c" stroke="#3c3c3c" stroke-width="0.25">0.95</text>
<text x="402.00" y="621.00" font-family="Liberation Sans, sans-serif" font-size="14.5" font-weight="normal" text-anchor="end" fill="#3c3c3c" stroke="#3c3c3c" stroke-width="0.25">0.9</text>
<text x="402.00" y="671.20" font-family="Liberation Sans, sans-serif" font-size="14.5" font-weight="normal" text-anchor="end" fill="#3c3c3c" stroke="#3c3c3c" stroke-width="0.25">0.85</text>
<text x="402.00" y="721.60" font-family="Liberation Sans, sans-serif" font-size="14.5" font-weight="normal" text-anchor="end" fill="#3c3c3c" stroke="#3c3c3c" stroke-width="0.25">0.8</text>
<text transform="translate(370.20,614.00) rotate(-90)" font-family="Liberation Serif, serif" font-size="13.4" text-anchor="middle" fill="#444" stroke="#444" stroke-width="0.2" textLength="99.5" lengthAdjust="spacingAndGlyphs">Output and Target</text>
<g fill="#0f72bb"><rect x="406.60" y="759.90" width="0.92" height="67.50"/><rect x="407.47" y="826.51" width="1.19" height="0.89"/><rect x="408.62" y="827.40" width="1.19" height="29.40"/><rect x="409.76" y="827.40" width="1.19" height="40.23"/><rect x="410.90" y="827.40" width="1.19" height="40.23"/><rect x="412.04" y="827.40" width="1.19" height="35.87"/><rect x="413.19" y="827.40" width="1.19" height="25.69"/><rect x="414.33" y="827.40" width="1.19" height="13.01"/><rect x="415.47" y="827.40" width="1.19" height="2.42"/><rect x="416.61" y="818.11" width="1.19" height="9.29"/><rect x="417.75" y="806.90" width="1.19" height="20.50"/><rect x="418.90" y="803.30" width="1.19" height="24.10"/><rect x="420.04" y="802.73" width="1.19" height="24.67"/><rect x="421.18" y="805.21" width="1.19" height="22.19"/><rect x="422.32" y="810.48" width="1.19" height="16.92"/><rect x="423.47" y="819.43" width="1.19" height="7.97"/><rect x="424.61" y="827.40" width="1.19" height="6.03"/><rect x="425.75" y="827.40" width="1.19" height="18.38"/><rect x="426.89" y="827.40" width="1.19" height="24.63"/><rect x="428.03" y="827.40" width="1.19" height="26.94"/><rect x="429.18" y="827.40" width="1.19" height="25.41"/><rect x="430.32" y="827.40" width="1.19" height="18.58"/><rect x="431.46" y="827.40" width="1.19" height="5.68"/><rect x="432.60" y="821.36" width="1.19" height="6.04"/><rect x="433.75" y="809.54" width="1.19" height="17.86"/><rect x="434.89" y="803.77" width="1.19" height="23.63"/><rect x="436.03" y="803.24" width="1.19" height="24.16"/><rect x="437.17" y="809.55" width="1.19" height="17.85"/><rect x="438.32" y="823.67" width="1.19" height="3.73"/><rect x="439.46" y="827.40" width="1.19" height="8.87"/><rect x="440.60" y="827.40" width="1.19" height="23.15"/><rect x="441.74" y="827.40" width="1.19" height="33.11"/><rect x="442.88" y="827.40" width="1.19" height="37.67"/><rect x="444.03" y="827.40" width="1.19" height="35.48"/><rect x="445.17" y="827.40" width="1.19" height="25.94"/><rect x="446.31" y="827.40" width="1.19" height="14.85"/><rect x="447.45" y="827.40" width="1.19" height="2.93"/><rect x="448.60" y="819.85" width="1.19" height="7.55"/><rect x="449.74" y="811.03" width="1.19" height="16.37"/><rect x="450.88" y="805.23" width="1.19" height="22.17"/><rect x="452.02" y="805.68" width="1.19" height="21.72"/><rect x="453.16" y="814.63" width="1.19" height="12.77"/><rect x="454.31" y="822.49" width="1.19" height="4.91"/><rect x="455.45" y="827.40" width="1.19" height="2.85"/><rect x="456.59" y="827.40" width="1.19" height="9.68"/><rect x="457.73" y="827.40" width="1.19" height="14.66"/><rect x="458.88" y="827.40" width="1.19" height="16.56"/><rect x="460.02" y="827.40" width="1.19" height="12.29"/><rect x="461.16" y="827.40" width="1.19" height="8.59"/><rect x="462.30" y="827.40" width="1.19" height="3.98"/><rect x="463.45" y="826.52" width="1.19" height="0.88"/><rect x="464.59" y="823.08" width="1.19" height="4.32"/><rect x="465.73" y="821.08" width="1.19" height="6.32"/><rect x="466.87" y="820.68" width="1.19" height="6.72"/><rect x="468.01" y="821.54" width="1.19" height="5.86"/><rect x="469.16" y="825.17" width="1.19" height="2.23"/><rect x="470.30" y="827.40" width="1.19" height="1.65"/><rect x="471.44" y="827.40" width="1.19" height="4.57"/><rect x="472.58" y="827.40" width="1.19" height="6.67"/><rect x="473.73" y="827.40" width="1.19" height="4.96"/><rect x="474.87" y="827.40" width="1.19" height="2.50"/><rect x="476.01" y="826.82" width="1.19" height="0.58"/><rect x="477.15" y="824.58" width="1.19" height="2.82"/><rect x="478.29" y="823.48" width="1.19" height="3.92"/><rect x="479.44" y="824.61" width="1.19" height="2.79"/><rect x="480.58" y="826.27" width="1.19" height="1.13"/><rect x="481.72" y="827.40" width="1.19" height="1.06"/><rect x="482.86" y="827.40" width="1.19" height="3.03"/><rect x="484.01" y="827.40" width="1.19" height="2.08"/><rect x="485.15" y="827.40" width="1.19" height="0.73"/><rect x="486.29" y="826.41" width="1.19" height="0.99"/><rect x="487.43" y="825.20" width="1.19" height="2.20"/><rect x="488.57" y="824.46" width="1.19" height="2.94"/><rect x="489.72" y="826.18" width="1.19" height="1.22"/><rect x="490.86" y="827.40" width="1.19" height="0.81"/><rect x="492.00" y="827.40" width="1.19" height="3.09"/><rect x="493.14" y="827.40" width="1.19" height="4.26"/><rect x="494.29" y="827.40" width="1.19" height="3.85"/><rect x="495.43" y="827.40" width="1.19" height="0.94"/><rect x="496.57" y="825.07" width="1.19" height="2.33"/><rect x="497.71" y="822.79" width="1.19" height="4.61"/><rect x="498.86" y="821.16" width="1.19" height="6.24"/><rect x="500.00" y="820.30" width="1.19" height="7.10"/><rect x="501.14" y="821.82" width="1.19" height="5.58"/><rect x="502.28" y="824.01" width="1.19" height="3.39"/><rect x="503.42" y="827.40" width="1.19" height="1.31"/><rect x="504.57" y="827.40" width="1.19" height="8.24"/><rect x="505.71" y="827.40" width="1.19" height="12.98"/><rect x="506.85" y="827.40" width="1.19" height="10.61"/><rect x="507.99" y="827.40" width="1.19" height="2.86"/><rect x="509.14" y="824.03" width="1.19" height="3.37"/><rect x="510.28" y="818.60" width="1.19" height="8.80"/><rect x="511.42" y="813.11" width="1.19" height="14.29"/><rect x="512.56" y="814.42" width="1.19" height="12.98"/><rect x="513.70" y="823.42" width="1.19" height="3.98"/><rect x="514.85" y="827.40" width="1.19" height="8.36"/><rect x="515.99" y="827.40" width="1.19" height="21.65"/><rect x="517.13" y="827.40" width="0.92" height="10.60"/></g>
<line x1="406.60" y1="827.40" x2="518.00" y2="827.40" stroke="#1f5f90" stroke-width="1.2" />
<rect x="405.55" y="758.55" width="2.7" height="2.7" fill="#0000ff"/><rect x="406.69" y="825.16" width="2.7" height="2.7" fill="#0000ff"/><rect x="407.83" y="855.45" width="2.7" height="2.7" fill="#0000ff"/><rect x="408.98" y="866.28" width="2.7" height="2.7" fill="#0000ff"/><rect x="410.12" y="866.28" width="2.7" height="2.7" fill="#0000ff"/><rect x="411.26" y="861.92" width="2.7" height="2.7" fill="#20d0d0"/><rect x="412.40" y="851.74" width="2.7" height="2.7" fill="#0000ff"/><rect x="413.55" y="839.06" width="2.7" height="2.7" fill="#0000ff"/><rect x="414.69" y="828.47" width="2.7" height="2.7" fill="#0000ff"/><rect x="415.83" y="816.76" width="2.7" height="2.7" fill="#0000ff"/><rect x="416.97" y="805.55" width="2.7" height="2.7" fill="#0000ff"/><rect x="418.11" y="801.95" width="2.7" height="2.7" fill="#20d0d0"/><rect x="419.26" y="801.38" width="2.7" height="2.7" fill="#20d0d0"/><rect x="420.40" y="803.86" width="2.7" height="2.7" fill="#0000ff"/><rect x="421.54" y="809.13" width="2.7" height="2.7" fill="#0000ff"/><rect x="422.68" y="818.08" width="2.7" height="2.7" fill="#20d0d0"/><rect x="423.83" y="832.08" width="2.7" height="2.7" fill="#0000ff"/><rect x="424.97" y="844.43" width="2.7" height="2.7" fill="#0000ff"/><rect x="426.11" y="850.68" width="2.7" height="2.7" fill="#0000ff"/><rect x="427.25" y="852.99" width="2.7" height="2.7" fill="#0000ff"/><rect x="428.40" y="851.46" width="2.7" height="2.7" fill="#0000ff"/><rect x="429.54" y="844.63" width="2.7" height="2.7" fill="#20d0d0"/><rect x="430.68" y="831.73" width="2.7" height="2.7" fill="#0000ff"/><rect x="431.82" y="820.01" width="2.7" height="2.7" fill="#0000ff"/><rect x="432.96" y="808.19" width="2.7" height="2.7" fill="#0000ff"/><rect x="434.11" y="802.42" width="2.7" height="2.7" fill="#0000ff"/><rect x="435.25" y="801.89" width="2.7" height="2.7" fill="#0000ff"/><rect x="436.39" y="808.20" width="2.7" height="2.7" fill="#0000ff"/><rect x="437.53" y="822.32" width="2.7" height="2.7" fill="#0000ff"/><rect x="438.68" y="834.92" width="2.7" height="2.7" fill="#0000ff"/><rect x="439.82" y="849.20" width="2.7" height="2.7" fill="#0000ff"/><rect x="440.96" y="859.16" width="2.7" height="2.7" fill="#0000ff"/><rect x="442.10" y="863.72" width="2.7" height="2.7" fill="#20d0d0"/><rect x="443.24" y="861.53" width="2.7" height="2.7" fill="#0000ff"/><rect x="444.39" y="851.99" width="2.7" height="2.7" fill="#0000ff"/><rect x="445.53" y="840.90" width="2.7" height="2.7" fill="#0000ff"/><rect x="446.67" y="828.98" width="2.7" height="2.7" fill="#0000ff"/><rect x="447.81" y="818.50" width="2.7" height="2.7" fill="#0000ff"/><rect x="448.96" y="809.68" width="2.7" height="2.7" fill="#20d0d0"/><rect x="450.10" y="803.88" width="2.7" height="2.7" fill="#0000ff"/><rect x="451.24" y="804.33" width="2.7" height="2.7" fill="#0000ff"/><rect x="452.38" y="813.28" width="2.7" height="2.7" fill="#0000ff"/><rect x="453.53" y="821.14" width="2.7" height="2.7" fill="#0000ff"/><rect x="454.67" y="828.90" width="2.7" height="2.7" fill="#0000ff"/><rect x="455.81" y="835.73" width="2.7" height="2.7" fill="#0000ff"/><rect x="456.95" y="840.71" width="2.7" height="2.7" fill="#0000ff"/><rect x="458.09" y="842.61" width="2.7" height="2.7" fill="#0000ff"/><rect x="459.24" y="838.34" width="2.7" height="2.7" fill="#0000ff"/><rect x="460.38" y="834.64" width="2.7" height="2.7" fill="#0000ff"/><rect x="461.52" y="830.03" width="2.7" height="2.7" fill="#20d0d0"/><rect x="462.66" y="825.17" width="2.7" height="2.7" fill="#0000ff"/><rect x="463.81" y="821.73" width="2.7" height="2.7" fill="#0000ff"/><rect x="464.95" y="819.73" width="2.7" height="2.7" fill="#0000ff"/><rect x="466.09" y="819.33" width="2.7" height="2.7" fill="#0000ff"/><rect x="467.23" y="820.19" width="2.7" height="2.7" fill="#20d0d0"/><rect x="468.37" y="823.82" width="2.7" height="2.7" fill="#0000ff"/><rect x="469.52" y="827.70" width="2.7" height="2.7" fill="#0000ff"/><rect x="470.66" y="830.62" width="2.7" height="2.7" fill="#0000ff"/><rect x="471.80" y="832.72" width="2.7" height="2.7" fill="#0000ff"/><rect x="472.94" y="831.01" width="2.7" height="2.7" fill="#0000ff"/><rect x="474.09" y="828.55" width="2.7" height="2.7" fill="#20d0d0"/><rect x="475.23" y="825.47" width="2.7" height="2.7" fill="#0000ff"/><rect x="476.37" y="823.23" width="2.7" height="2.7" fill="#0000ff"/><rect x="477.51" y="822.13" width="2.7" height="2.7" fill="#0000ff"/><rect x="478.66" y="823.26" width="2.7" height="2.7" fill="#0000ff"/><rect x="479.80" y="824.92" width="2.7" height="2.7" fill="#0000ff"/><rect x="480.94" y="827.11" width="2.7" height="2.7" fill="#0000ff"/><rect x="482.08" y="829.08" width="2.7" height="2.7" fill="#0000ff"/><rect x="483.22" y="828.13" width="2.7" height="2.7" fill="#0000ff"/><rect x="484.37" y="826.78" width="2.7" height="2.7" fill="#20d0d0"/><rect x="485.51" y="825.06" width="2.7" height="2.7" fill="#0000ff"/><rect x="486.65" y="823.85" width="2.7" height="2.7" fill="#0000ff"/><rect x="487.79" y="823.11" width="2.7" height="2.7" fill="#0000ff"/><rect x="488.94" y="824.83" width="2.7" height="2.7" fill="#0000ff"/><rect x="490.08" y="826.86" width="2.7" height="2.7" fill="#0000ff"/><rect x="491.22" y="829.14" width="2.7" height="2.7" fill="#0000ff"/><rect x="492.36" y="830.31" width="2.7" height="2.7" fill="#20d0d0"/><rect x="493.50" y="829.90" width="2.7" height="2.7" fill="#0000ff"/><rect x="494.65" y="826.99" width="2.7" height="2.7" fill="#0000ff"/><rect x="495.79" y="823.72" width="2.7" height="2.7" fill="#0000ff"/><rect x="496.93" y="821.44" width="2.7" height="2.7" fill="#0000ff"/><rect x="498.07" y="819.81" width="2.7" height="2.7" fill="#0000ff"/><rect x="499.22" y="818.95" width="2.7" height="2.7" fill="#0000ff"/><rect x="500.36" y="820.47" width="2.7" height="2.7" fill="#0000ff"/><rect x="501.50" y="822.66" width="2.7" height="2.7" fill="#20d0d0"/><rect x="502.64" y="827.36" width="2.7" height="2.7" fill="#0000ff"/><rect x="503.79" y="834.29" width="2.7" height="2.7" fill="#0000ff"/><rect x="504.93" y="839.03" width="2.7" height="2.7" fill="#0000ff"/><rect x="506.07" y="836.66" width="2.7" height="2.7" fill="#0000ff"/><rect x="507.21" y="828.91" width="2.7" height="2.7" fill="#0000ff"/><rect x="508.35" y="822.68" width="2.7" height="2.7" fill="#0000ff"/><rect x="509.50" y="817.25" width="2.7" height="2.7" fill="#0000ff"/><rect x="510.64" y="811.76" width="2.7" height="2.7" fill="#0000ff"/><rect x="511.78" y="813.07" width="2.7" height="2.7" fill="#0000ff"/><rect x="512.92" y="822.07" width="2.7" height="2.7" fill="#20d0d0"/><rect x="514.07" y="834.41" width="2.7" height="2.7" fill="#0000ff"/><rect x="515.21" y="847.70" width="2.7" height="2.7" fill="#0000ff"/><rect x="516.35" y="836.65" width="2.7" height="2.7" fill="#0000ff"/>
<rect x="406.60" y="736.90" width="111.40" height="135.80" fill="none" stroke="#262626" stroke-width="1.2"/>
<rect x="405.40" y="759.90" width="1.50" height="67.50" fill="#1a7cc4"/>
<rect x="404.85" y="758.60" width="2.6" height="2.6" fill="#0000ff"/>
<rect x="517.90" y="817.86" width="1.30" height="9.54" fill="#1a7cc4"/>
<rect x="517.25" y="816.56" width="2.6" height="2.6" fill="#0000ff"/>
<text x="405.20" y="740.70" font-family="Liberation Sans, sans-serif" font-size="12.0" font-weight="normal" text-anchor="end" fill="#3c3c3c" stroke="#3c3c3c" stroke-width="0.25">10</text>
<text x="405.20" y="787.20" font-family="Liberation Sans, sans-serif" font-size="12.0" font-weight="normal" text-anchor="end" fill="#3c3c3c" stroke="#3c3c3c" stroke-width="0.25">5</text>
<text x="405.20" y="831.80" font-family="Liberation Sans, sans-serif" font-size="12.0" font-weight="normal" text-anchor="end" fill="#3c3c3c" stroke="#3c3c3c" stroke-width="0.25">0</text>
<text x="405.20" y="876.80" font-family="Liberation Sans, sans-serif" font-size="12.0" font-weight="normal" text-anchor="end" fill="#3c3c3c" stroke="#3c3c3c" stroke-width="0.25">-5</text>
<text x="428.30" y="888.10" font-family="Liberation Sans, sans-serif" font-size="12.0" font-weight="normal" text-anchor="middle" fill="#3c3c3c" stroke="#3c3c3c" stroke-width="0.25">20</text>
<text x="451.30" y="888.10" font-family="Liberation Sans, sans-serif" font-size="12.0" font-weight="normal" text-anchor="middle" fill="#3c3c3c" stroke="#3c3c3c" stroke-width="0.25">40</text>
<text x="474.00" y="888.10" font-family="Liberation Sans, sans-serif" font-size="12.0" font-weight="normal" text-anchor="middle" fill="#3c3c3c" stroke="#3c3c3c" stroke-width="0.25">60</text>
<text x="497.30" y="888.10" font-family="Liberation Sans, sans-serif" font-size="12.0" font-weight="normal" text-anchor="middle" fill="#3c3c3c" stroke="#3c3c3c" stroke-width="0.25">80</text>
<line x1="428.30" y1="872.70" x2="428.30" y2="870.70" stroke="#262626" stroke-width="1" />
<line x1="428.30" y1="736.90" x2="428.30" y2="738.90" stroke="#262626" stroke-width="1" />
<line x1="450.90" y1="872.70" x2="450.90" y2="870.70" stroke="#262626" stroke-width="1" />
<line x1="450.90" y1="736.90" x2="450.90" y2="738.90" stroke="#262626" stroke-width="1" />
<line x1="473.90" y1="872.70" x2="473.90" y2="870.70" stroke="#262626" stroke-width="1" />
<line x1="473.90" y1="736.90" x2="473.90" y2="738.90" stroke="#262626" stroke-width="1" />
<line x1="496.70" y1="872.70" x2="496.70" y2="870.70" stroke="#262626" stroke-width="1" />
<line x1="496.70" y1="736.90" x2="496.70" y2="738.90" stroke="#262626" stroke-width="1" />
<text x="462.70" y="903.10" font-family="Liberation Serif, serif" font-size="13.4" font-weight="normal" text-anchor="middle" fill="#444" stroke="#444" stroke-width="0.25">Time</text>
<text transform="translate(371.50,806.80) rotate(-90)" font-family="Liberation Serif, serif" font-size="13.4" text-anchor="middle" fill="#2a2a2a" stroke="#2a2a2a" stroke-width="0.3">Error</text>
<text x="407.00" y="733.00" font-family="Liberation Sans, sans-serif" font-size="12.0" font-weight="normal" text-anchor="start" fill="#999" >×</text>
<text x="416.60" y="733.00" font-family="Liberation Sans, sans-serif" font-size="12.2" font-weight="normal" text-anchor="start" fill="#444" >10</text>
<text x="429.80" y="726.80" font-family="Liberation Sans, sans-serif" font-size="9.6" font-weight="normal" text-anchor="start" fill="#444" >-5</text>
<rect x="518.00" y="715.60" width="159.60" height="189.90" fill="#fff" stroke="#262626" stroke-width="1.2"/>
<rect x="543.40" y="728.60" width="2.6" height="2.6" fill="#0000ff"/>
<text x="570.70" y="735.20" font-family="Liberation Sans, sans-serif" font-size="12.8" font-weight="normal" text-anchor="start" fill="#161616" stroke="#161616" stroke-width="0.25">Training Targets</text>
<path d="M540.10 752.90H549.30M544.70 748.30V757.50" stroke="#2a3a98" stroke-width="1.6" fill="none"/>
<text x="570.70" y="758.20" font-family="Liberation Sans, sans-serif" font-size="12.8" font-weight="normal" text-anchor="start" fill="#161616" stroke="#161616" stroke-width="0.25">Training Outputs</text>
<rect x="543.40" y="775.00" width="2.6" height="2.6" fill="#00c000"/>
<text x="570.70" y="781.60" font-family="Liberation Sans, sans-serif" font-size="12.8" font-weight="normal" text-anchor="start" fill="#161616" stroke="#161616" stroke-width="0.25">Validation Targets</text>
<path d="M540.10 799.40H549.30M544.70 794.80V804.00" stroke="#28c8c8" stroke-width="1.6" fill="none"/>
<text x="570.70" y="804.70" font-family="Liberation Sans, sans-serif" font-size="12.8" font-weight="normal" text-anchor="start" fill="#161616" stroke="#161616" stroke-width="0.25">Validation Outputs</text>
<rect x="543.40" y="821.60" width="2.6" height="2.6" fill="#ff0000"/>
<text x="570.70" y="828.20" font-family="Liberation Sans, sans-serif" font-size="12.8" font-weight="normal" text-anchor="start" fill="#161616" stroke="#161616" stroke-width="0.25">Test Targets</text>
<path d="M540.10 846.50H549.30M544.70 841.90V851.10" stroke="#2a70c0" stroke-width="1.6" fill="none"/>
<text x="570.70" y="851.80" font-family="Liberation Sans, sans-serif" font-size="12.8" font-weight="normal" text-anchor="start" fill="#161616" stroke="#161616" stroke-width="0.25">Test Outputs</text>
<line x1="522.60" y1="869.00" x2="566.80" y2="869.00" stroke="#ff9400" stroke-width="2.8" />
<text x="570.70" y="874.30" font-family="Liberation Sans, sans-serif" font-size="12.8" font-weight="normal" text-anchor="start" fill="#161616" stroke="#161616" stroke-width="0.25">Errors</text>
<line x1="522.80" y1="892.40" x2="566.60" y2="892.40" stroke="#262626" stroke-width="1.3" />
<text x="570.70" y="897.70" font-family="Liberation Sans, sans-serif" font-size="12.8" font-weight="normal" text-anchor="start" fill="#161616" stroke="#161616" stroke-width="0.25">Response</text>
<rect x="405.40" y="905.60" width="272.20" height="20.70" fill="#fff" stroke="#262626" stroke-width="1.2"/>
<rect x="492.30" y="914.65" width="2.6" height="2.6" fill="#0000ff"/>
<text x="520.60" y="920.95" font-family="Liberation Sans, sans-serif" font-size="12.8" font-weight="normal" text-anchor="start" fill="#262626" stroke="#161616" stroke-width="0.25" textLength="92" lengthAdjust="spacingAndGlyphs">Targets - Outputs</text>
</g>
</svg></body></html>
